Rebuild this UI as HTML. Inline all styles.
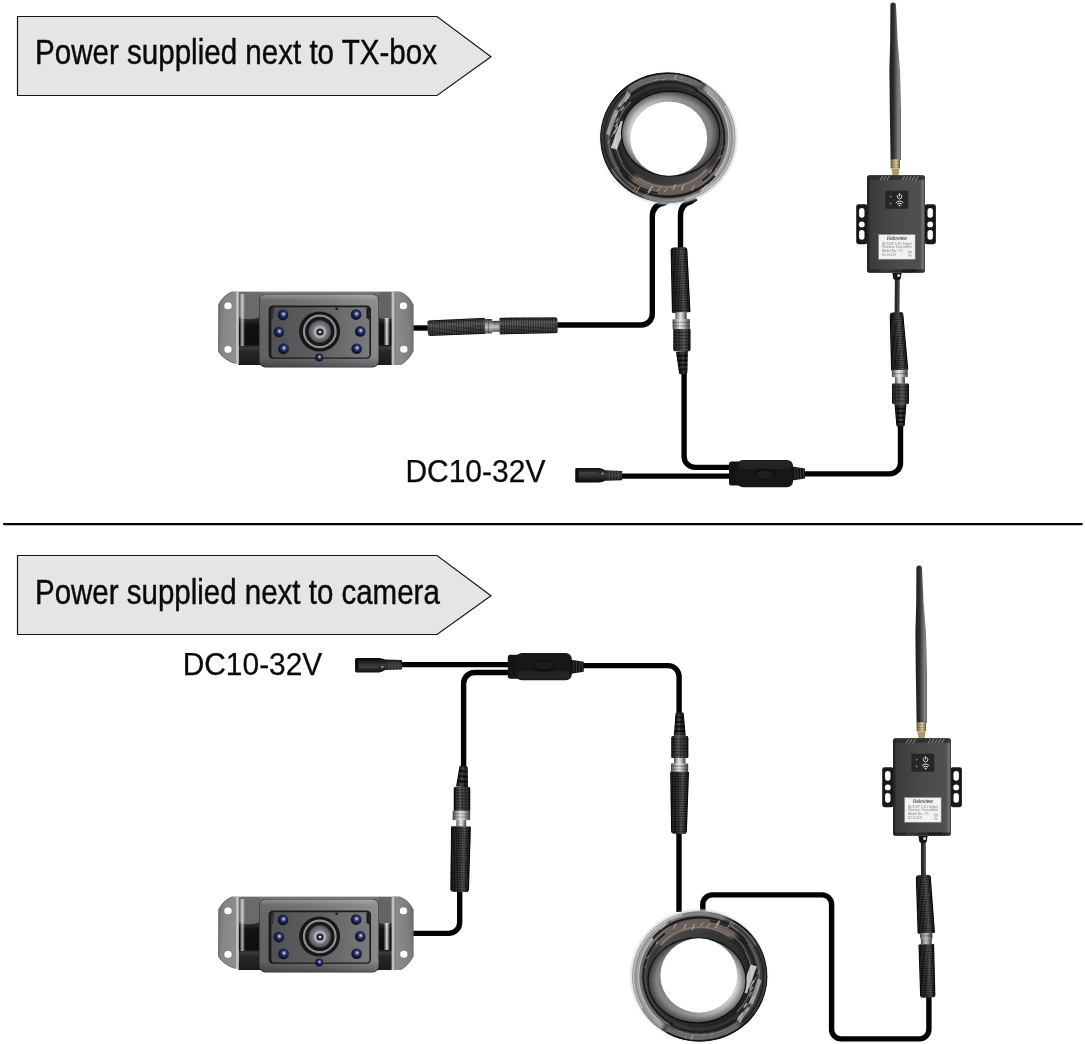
<!DOCTYPE html>
<html lang="en">
<head>
<meta charset="utf-8">
<title>Wiring diagram</title>
<style>
html,body{margin:0;padding:0;background:#fff;}
body{width:1085px;height:1044px;overflow:hidden;font-family:"Liberation Sans", Arial, Helvetica, sans-serif;}
svg{display:block;}
text{opacity:0.999;}
</style>
</head>
<body>
<svg width="1085" height="1044" viewBox="0 0 1085 1044">
<defs>
<linearGradient id="gBarV" x1="0" x2="1" y1="0" y2="0">
  <stop offset="0" stop-color="#0d0d0d"/><stop offset="0.18" stop-color="#262626"/>
  <stop offset="0.45" stop-color="#3a3a3a"/><stop offset="0.62" stop-color="#5a5a5a"/>
  <stop offset="0.74" stop-color="#333"/><stop offset="1" stop-color="#0a0a0a"/>
</linearGradient>
<linearGradient id="gBarH" x1="0" x2="0" y1="0" y2="1">
  <stop offset="0" stop-color="#1a1a1a"/><stop offset="0.2" stop-color="#3c3c3c"/>
  <stop offset="0.5" stop-color="#4a4a4a"/><stop offset="0.7" stop-color="#2c2c2c"/>
  <stop offset="1" stop-color="#0c0c0c"/>
</linearGradient>
<linearGradient id="gSilV" x1="0" x2="1" y1="0" y2="0">
  <stop offset="0" stop-color="#5a5a5a"/><stop offset="0.25" stop-color="#b8b8b8"/>
  <stop offset="0.5" stop-color="#f2f2f2"/><stop offset="0.75" stop-color="#a0a0a0"/>
  <stop offset="1" stop-color="#4a4a4a"/>
</linearGradient>
<linearGradient id="gSilH" x1="0" x2="0" y1="0" y2="1">
  <stop offset="0" stop-color="#6a6a60"/><stop offset="0.3" stop-color="#c8c4b4"/>
  <stop offset="0.5" stop-color="#f0ede0"/><stop offset="0.75" stop-color="#a09c8c"/>
  <stop offset="1" stop-color="#4a4a44"/>
</linearGradient>
<linearGradient id="gAnt" x1="0" x2="1" y1="0" y2="0">
  <stop offset="0" stop-color="#1e1e1e"/><stop offset="0.35" stop-color="#2c2c2c"/>
  <stop offset="0.7" stop-color="#6e6e6e"/><stop offset="0.86" stop-color="#8c8c8c"/>
  <stop offset="1" stop-color="#3a3a3a"/>
</linearGradient>
<linearGradient id="gBrass" x1="0" x2="1" y1="0" y2="0">
  <stop offset="0" stop-color="#6a5c3a"/><stop offset="0.4" stop-color="#c0ac7c"/>
  <stop offset="0.6" stop-color="#e6dcb8"/><stop offset="1" stop-color="#6a5c3a"/>
</linearGradient>
<filter id="blur05" x="-10%" y="-10%" width="120%" height="120%"><feGaussianBlur stdDeviation="0.5"/></filter>
<filter id="blur08" x="-10%" y="-10%" width="120%" height="120%"><feGaussianBlur stdDeviation="0.8"/></filter>
<filter id="blur15" x="-10%" y="-10%" width="120%" height="120%"><feGaussianBlur stdDeviation="1.5"/></filter>

<linearGradient id="kWallA" x1="0" x2="1" y1="0.45" y2="0.55"><stop offset="0" stop-color="#dedede"/><stop offset="0.22" stop-color="#bcbcbc"/><stop offset="0.5" stop-color="#949494"/><stop offset="1" stop-color="#807c7c"/></linearGradient>
<radialGradient id="kWallDA" cx="0.5" cy="0.5" r="0.5"><stop offset="0.84" stop-color="#000" stop-opacity="0"/><stop offset="1" stop-color="#000" stop-opacity="0.5"/></radialGradient>
<linearGradient id="kBaseA" x1="0" x2="1" y1="0.35" y2="0.65"><stop offset="0" stop-color="#242424"/><stop offset="0.5" stop-color="#363636"/><stop offset="0.8" stop-color="#4a4a4a"/><stop offset="1" stop-color="#606060"/></linearGradient>
<clipPath id="kClipA"><ellipse cx="0" cy="0" rx="67.6" ry="65.2"/></clipPath>

<linearGradient id="cFlA" x1="0" x2="1" y1="0" y2="0.25"><stop offset="0" stop-color="#6c6c6c"/><stop offset="0.35" stop-color="#868686"/><stop offset="1" stop-color="#8e8e8e"/></linearGradient>
<linearGradient id="cFrA" x1="0" x2="1" y1="0.25" y2="0"><stop offset="0" stop-color="#8c8c8c"/><stop offset="0.6" stop-color="#808080"/><stop offset="1" stop-color="#6a6a6a"/></linearGradient>
<linearGradient id="cSideA" x1="0" x2="0" y1="0" y2="1"><stop offset="0" stop-color="#7a7a7a"/><stop offset="0.12" stop-color="#5c5c5c"/><stop offset="0.3" stop-color="#666"/><stop offset="0.38" stop-color="#2a2a2a"/><stop offset="0.45" stop-color="#121212"/><stop offset="0.72" stop-color="#0e0e0e"/><stop offset="0.76" stop-color="#3a3a3a"/><stop offset="0.82" stop-color="#262626"/><stop offset="1" stop-color="#1c1c1c"/></linearGradient>
<linearGradient id="cBezA" x1="0" x2="1" y1="0" y2="0"><stop offset="0" stop-color="#626262"/><stop offset="0.5" stop-color="#707070"/><stop offset="1" stop-color="#8a8a8a"/></linearGradient>
<linearGradient id="cBezVA" x1="0" x2="0" y1="0" y2="1"><stop offset="0" stop-color="#fff" stop-opacity="0.3"/><stop offset="0.08" stop-color="#fff" stop-opacity="0.05"/><stop offset="0.85" stop-color="#000" stop-opacity="0"/><stop offset="1" stop-color="#000" stop-opacity="0.3"/></linearGradient>
<linearGradient id="cFaceA" x1="0" x2="1" y1="0" y2="0"><stop offset="0" stop-color="#515151"/><stop offset="0.45" stop-color="#5e5e5e"/><stop offset="1" stop-color="#7a7a7a"/></linearGradient>
<radialGradient id="cLensA" cx="0.5" cy="0.5" r="0.5"><stop offset="0" stop-color="#9a9aa2"/><stop offset="0.6" stop-color="#7c7e84"/><stop offset="0.88" stop-color="#5e6066"/><stop offset="1" stop-color="#34353a"/></radialGradient>
<radialGradient id="cLedA" cx="0.55" cy="0.42" r="0.6"><stop offset="0" stop-color="#e6ecff"/><stop offset="0.15" stop-color="#8c9ad0"/><stop offset="0.4" stop-color="#27326c"/><stop offset="0.72" stop-color="#131736"/><stop offset="1" stop-color="#0c0e20"/></radialGradient>
<linearGradient id="cSpecA" x1="0" x2="1" y1="0" y2="0"><stop offset="0" stop-color="#fff" stop-opacity="0"/><stop offset="0.5" stop-color="#fff" stop-opacity="0.85"/><stop offset="1" stop-color="#fff" stop-opacity="0"/></linearGradient>

<linearGradient id="tBodyA" x1="0" x2="1" y1="0" y2="0"><stop offset="0" stop-color="#1e1e1e"/><stop offset="0.07" stop-color="#3c3c3c"/><stop offset="0.5" stop-color="#4a4a4a"/><stop offset="0.92" stop-color="#505050"/><stop offset="0.965" stop-color="#787878"/><stop offset="1" stop-color="#3a3a3a"/></linearGradient>
<clipPath id="bc1"><path d="M427.83,333.55 L427.37,323.05 Q427.26,320.46 429.86,320.33 L483.65,317.76 Q484.85,317.71 484.90,318.91 L485.50,332.69 Q485.55,333.89 484.35,333.94 L430.54,336.04 Q427.94,336.14 427.83,333.55 Z"/></clipPath><clipPath id="bc2"><path d="M484.80,332.80 L484.80,319.80 Q484.80,319.00 485.60,319.00 L491.50,319.00 Q492.30,319.00 492.30,319.80 L492.30,332.80 Q492.30,333.60 491.50,333.60 L485.60,333.60 Q484.80,333.60 484.80,332.80 Z"/></clipPath><clipPath id="bc3"><path d="M492.30,331.30 L492.30,321.30 Q492.30,320.80 492.80,320.80 L499.30,320.80 Q499.80,320.80 499.80,321.30 L499.80,331.30 Q499.80,331.80 499.30,331.80 L492.80,331.80 Q492.30,331.80 492.30,331.30 Z"/></clipPath><clipPath id="bc4"><path d="M499.61,333.35 L499.39,318.85 Q499.37,317.65 500.57,317.64 L554.88,317.27 Q557.48,317.25 557.52,319.85 L557.68,330.55 Q557.72,333.15 555.12,333.21 L500.83,334.52 Q499.63,334.55 499.61,333.35 Z"/></clipPath><clipPath id="bc5"><path d="M674.00,247.57 L683.80,247.23 Q687.29,247.10 687.47,250.60 L690.48,311.07 Q690.54,312.27 689.34,312.31 L673.06,312.89 Q671.86,312.93 671.83,311.73 L670.58,251.20 Q670.51,247.70 674.00,247.57 Z"/></clipPath><clipPath id="bc6"><path d="M675.80,312.29 L686.20,312.11 Q686.70,312.10 686.71,312.60 L686.81,318.44 Q686.82,318.94 686.32,318.95 L675.92,319.13 Q675.42,319.14 675.41,318.64 L675.31,312.80 Q675.30,312.30 675.80,312.29 Z"/></clipPath><clipPath id="bc7"><path d="M673.22,319.18 L689.02,318.90 Q689.82,318.89 689.83,319.69 L689.98,328.35 Q690.00,329.15 689.20,329.16 L673.40,329.44 Q672.60,329.45 672.59,328.65 L672.44,319.99 Q672.42,319.19 673.22,319.18 Z"/></clipPath><clipPath id="bc8"><path d="M676.41,351.64 L687.39,350.96 Q687.89,350.93 687.88,351.43 L687.42,372.24 Q687.39,373.75 685.90,373.84 L680.70,374.16 Q679.21,374.25 678.99,372.76 L675.98,352.17 Q675.91,351.67 676.41,351.64 Z"/></clipPath><clipPath id="bc9"><path d="M674.40,329.10 L689.40,329.10 Q690.60,329.10 690.60,330.30 L690.60,348.70 Q690.60,351.30 688.00,351.30 L675.80,351.30 Q673.20,351.30 673.20,348.70 L673.20,330.30 Q673.20,329.10 674.40,329.10 Z"/></clipPath><linearGradient id="gJackA" x1="0" x2="0" y1="0" y2="1">
  <stop offset="0" stop-color="#101010"/><stop offset="0.3" stop-color="#2e2e2e"/>
  <stop offset="0.5" stop-color="#383838"/><stop offset="0.75" stop-color="#1e1e1e"/><stop offset="1" stop-color="#080808"/></linearGradient><clipPath id="bc10"><path d="M893.11,312.49 L899.69,312.11 Q903.19,311.91 903.50,315.40 L908.28,368.51 Q908.39,369.70 907.19,369.77 L892.21,370.63 Q891.01,370.70 890.99,369.49 L889.70,316.19 Q889.61,312.69 893.11,312.49 Z"/></clipPath><clipPath id="bc11"><path d="M892.50,370.16 L906.90,369.84 Q907.70,369.82 907.72,370.62 L907.84,376.15 Q907.85,376.95 907.05,376.97 L892.66,377.28 Q891.86,377.30 891.84,376.50 L891.72,370.97 Q891.70,370.18 892.50,370.16 Z"/></clipPath><clipPath id="bc12"><path d="M895.36,377.22 L904.35,377.03 Q904.85,377.01 904.87,377.51 L904.99,383.09 Q905.00,383.59 904.50,383.60 L895.50,383.80 Q895.00,383.81 894.99,383.31 L894.87,377.73 Q894.86,377.23 895.36,377.22 Z"/></clipPath><clipPath id="bc13"><path d="M895.00,404.30 L906.00,404.30 Q906.50,404.30 906.46,404.80 L904.73,424.90 Q904.60,426.40 903.10,426.40 L897.90,426.40 Q896.40,426.40 896.27,424.90 L894.54,404.80 Q894.50,404.30 895.00,404.30 Z"/></clipPath><clipPath id="bc14"><path d="M893.20,383.50 L907.80,383.50 Q909.00,383.50 909.00,384.70 L909.00,401.70 Q909.00,404.30 906.40,404.30 L894.60,404.30 Q892.00,404.30 892.00,401.70 L892.00,384.70 Q892.00,383.50 893.20,383.50 Z"/></clipPath>
<linearGradient id="kWallB" x1="0" x2="1" y1="0.45" y2="0.55"><stop offset="0" stop-color="#dedede"/><stop offset="0.22" stop-color="#bcbcbc"/><stop offset="0.5" stop-color="#949494"/><stop offset="1" stop-color="#807c7c"/></linearGradient>
<radialGradient id="kWallDB" cx="0.5" cy="0.5" r="0.5"><stop offset="0.84" stop-color="#000" stop-opacity="0"/><stop offset="1" stop-color="#000" stop-opacity="0.5"/></radialGradient>
<linearGradient id="kBaseB" x1="0" x2="1" y1="0.35" y2="0.65"><stop offset="0" stop-color="#242424"/><stop offset="0.5" stop-color="#363636"/><stop offset="0.8" stop-color="#4a4a4a"/><stop offset="1" stop-color="#606060"/></linearGradient>
<clipPath id="kClipB"><ellipse cx="0" cy="0" rx="67.6" ry="65.2"/></clipPath>

<linearGradient id="cFlB" x1="0" x2="1" y1="0" y2="0.25"><stop offset="0" stop-color="#6c6c6c"/><stop offset="0.35" stop-color="#868686"/><stop offset="1" stop-color="#8e8e8e"/></linearGradient>
<linearGradient id="cFrB" x1="0" x2="1" y1="0.25" y2="0"><stop offset="0" stop-color="#8c8c8c"/><stop offset="0.6" stop-color="#808080"/><stop offset="1" stop-color="#6a6a6a"/></linearGradient>
<linearGradient id="cSideB" x1="0" x2="0" y1="0" y2="1"><stop offset="0" stop-color="#7a7a7a"/><stop offset="0.12" stop-color="#5c5c5c"/><stop offset="0.3" stop-color="#666"/><stop offset="0.38" stop-color="#2a2a2a"/><stop offset="0.45" stop-color="#121212"/><stop offset="0.72" stop-color="#0e0e0e"/><stop offset="0.76" stop-color="#3a3a3a"/><stop offset="0.82" stop-color="#262626"/><stop offset="1" stop-color="#1c1c1c"/></linearGradient>
<linearGradient id="cBezB" x1="0" x2="1" y1="0" y2="0"><stop offset="0" stop-color="#626262"/><stop offset="0.5" stop-color="#707070"/><stop offset="1" stop-color="#8a8a8a"/></linearGradient>
<linearGradient id="cBezVB" x1="0" x2="0" y1="0" y2="1"><stop offset="0" stop-color="#fff" stop-opacity="0.3"/><stop offset="0.08" stop-color="#fff" stop-opacity="0.05"/><stop offset="0.85" stop-color="#000" stop-opacity="0"/><stop offset="1" stop-color="#000" stop-opacity="0.3"/></linearGradient>
<linearGradient id="cFaceB" x1="0" x2="1" y1="0" y2="0"><stop offset="0" stop-color="#515151"/><stop offset="0.45" stop-color="#5e5e5e"/><stop offset="1" stop-color="#7a7a7a"/></linearGradient>
<radialGradient id="cLensB" cx="0.5" cy="0.5" r="0.5"><stop offset="0" stop-color="#9a9aa2"/><stop offset="0.6" stop-color="#7c7e84"/><stop offset="0.88" stop-color="#5e6066"/><stop offset="1" stop-color="#34353a"/></radialGradient>
<radialGradient id="cLedB" cx="0.55" cy="0.42" r="0.6"><stop offset="0" stop-color="#e6ecff"/><stop offset="0.15" stop-color="#8c9ad0"/><stop offset="0.4" stop-color="#27326c"/><stop offset="0.72" stop-color="#131736"/><stop offset="1" stop-color="#0c0e20"/></radialGradient>
<linearGradient id="cSpecB" x1="0" x2="1" y1="0" y2="0"><stop offset="0" stop-color="#fff" stop-opacity="0"/><stop offset="0.5" stop-color="#fff" stop-opacity="0.85"/><stop offset="1" stop-color="#fff" stop-opacity="0"/></linearGradient>

<linearGradient id="tBodyB" x1="0" x2="1" y1="0" y2="0"><stop offset="0" stop-color="#1e1e1e"/><stop offset="0.07" stop-color="#3c3c3c"/><stop offset="0.5" stop-color="#4a4a4a"/><stop offset="0.92" stop-color="#505050"/><stop offset="0.965" stop-color="#787878"/><stop offset="1" stop-color="#3a3a3a"/></linearGradient>
<linearGradient id="gJackB" x1="0" x2="0" y1="0" y2="1">
  <stop offset="0" stop-color="#101010"/><stop offset="0.3" stop-color="#2e2e2e"/>
  <stop offset="0.5" stop-color="#383838"/><stop offset="0.75" stop-color="#1e1e1e"/><stop offset="1" stop-color="#080808"/></linearGradient><clipPath id="bc15"><path d="M467.48,787.22 L456.52,786.38 Q456.02,786.34 456.10,785.84 L459.26,767.17 Q459.51,765.69 461.01,765.80 L466.19,766.20 Q467.69,766.31 467.71,767.82 L467.98,786.76 Q467.98,787.26 467.48,787.22 Z"/></clipPath><clipPath id="bc16"><path d="M469.15,810.90 L454.85,810.90 Q453.65,810.90 453.65,809.70 L453.65,789.40 Q453.65,786.80 456.25,786.80 L467.75,786.80 Q470.35,786.80 470.35,789.40 L470.35,809.70 Q470.35,810.90 469.15,810.90 Z"/></clipPath><clipPath id="bc17"><path d="M453.45,810.60 L469.55,810.80 Q470.35,810.81 470.34,811.61 L470.24,819.55 Q470.23,820.35 469.43,820.34 L453.33,820.14 Q452.53,820.13 452.54,819.33 L452.64,811.39 Q452.65,810.59 453.45,810.60 Z"/></clipPath><clipPath id="bc18"><path d="M456.88,820.18 L465.88,820.30 Q466.38,820.30 466.37,820.80 L466.31,826.16 Q466.30,826.66 465.80,826.66 L456.80,826.54 Q456.30,826.54 456.31,826.04 L456.37,820.68 Q456.38,820.18 456.88,820.18 Z"/></clipPath><clipPath id="bc19"><path d="M452.20,826.21 L469.80,826.59 Q471.00,826.61 470.96,827.81 L469.10,888.70 Q469.00,892.20 465.50,892.13 L453.70,891.87 Q450.20,891.80 450.24,888.30 L450.99,827.39 Q451.00,826.19 452.20,826.21 Z"/></clipPath><clipPath id="bc20"><path d="M685.30,735.75 L674.30,735.85 Q673.80,735.85 673.84,735.35 L675.39,714.14 Q675.50,712.64 677.00,712.62 L682.20,712.58 Q683.70,712.56 683.84,714.06 L685.75,735.25 Q685.80,735.75 685.30,735.75 Z"/></clipPath><clipPath id="bc21"><path d="M687.25,758.00 L672.35,758.00 Q671.15,758.00 671.15,756.80 L671.15,738.40 Q671.15,735.80 673.75,735.80 L685.85,735.80 Q688.45,735.80 688.45,738.40 L688.45,756.80 Q688.45,758.00 687.25,758.00 Z"/></clipPath><clipPath id="bc22"><path d="M674.50,757.72 L685.10,757.88 Q685.60,757.88 685.59,758.38 L685.53,763.02 Q685.52,763.52 685.02,763.52 L674.42,763.36 Q673.92,763.36 673.93,762.86 L673.99,758.22 Q674.00,757.72 674.50,757.72 Z"/></clipPath><clipPath id="bc23"><path d="M671.87,763.33 L687.57,763.55 Q688.37,763.56 688.36,764.36 L688.26,771.22 Q688.25,772.02 687.45,772.01 L671.75,771.79 Q670.95,771.78 670.96,770.98 L671.06,764.12 Q671.07,763.32 671.87,763.33 Z"/></clipPath><clipPath id="bc24"><path d="M671.30,771.62 L687.90,771.78 Q689.10,771.79 689.06,772.99 L687.02,830.48 Q686.90,833.98 683.40,833.94 L674.60,833.86 Q671.10,833.82 671.04,830.32 L670.12,772.81 Q670.10,771.61 671.30,771.62 Z"/></clipPath><clipPath id="bc25"><path d="M919.21,875.21 L927.19,874.79 Q930.69,874.60 930.95,878.09 L935.00,931.64 Q935.09,932.83 933.89,932.90 L918.71,933.70 Q917.51,933.77 917.48,932.57 L915.82,878.90 Q915.71,875.40 919.21,875.21 Z"/></clipPath><clipPath id="bc26"><path d="M920.90,933.10 L931.70,933.10 Q932.50,933.10 932.50,933.90 L932.50,937.95 Q932.50,938.75 931.70,938.75 L920.90,938.75 Q920.10,938.75 920.10,937.95 L920.10,933.90 Q920.10,933.10 920.90,933.10 Z"/></clipPath><clipPath id="bc27"><path d="M921.30,938.75 L931.30,938.75 Q931.80,938.75 931.80,939.25 L931.80,943.90 Q931.80,944.40 931.30,944.40 L921.30,944.40 Q920.80,944.40 920.80,943.90 L920.80,939.25 Q920.80,938.75 921.30,938.75 Z"/></clipPath><clipPath id="bc28"><path d="M919.60,944.39 L933.00,944.01 Q934.20,943.98 934.23,945.18 L935.42,994.28 Q935.50,997.28 932.50,997.37 L923.10,997.63 Q920.10,997.72 920.01,994.72 L918.44,945.62 Q918.40,944.42 919.60,944.39 Z"/></clipPath></defs>
<rect width="1085" height="1044" fill="#fff"/>
<path d="M4,524.05 H1081.7" stroke="#050505" stroke-width="2.3" stroke-linecap="round" fill="none"/>
<polygon points="17.5,16.5 437,16.5 491,56.8 437,95.5 17.5,95.5" fill="#e5e5e5" stroke="#161616" stroke-width="1.2" stroke-linejoin="miter"/>
<text x="35" y="64.2" font-family='"Liberation Sans", Arial, Helvetica, sans-serif' font-size="35.5" fill="#0a0a0a" stroke="#0a0a0a" stroke-width="0.45" textLength="402" lengthAdjust="spacingAndGlyphs">Power supplied next to TX-box</text>
<polygon points="17.5,555.5 437,555.5 491,595.8 437,634.5 17.5,634.5" fill="#e5e5e5" stroke="#161616" stroke-width="1.2" stroke-linejoin="miter"/>
<text x="35" y="604.0" font-family='"Liberation Sans", Arial, Helvetica, sans-serif' font-size="35.5" fill="#0a0a0a" stroke="#0a0a0a" stroke-width="0.45" textLength="404.8" lengthAdjust="spacingAndGlyphs">Power supplied next to camera</text>
<text x="405.4" y="482.2" font-family='"Liberation Sans", Arial, Helvetica, sans-serif' font-size="30.7" fill="#0a0a0a" stroke="#0a0a0a" stroke-width="0.25" textLength="140" lengthAdjust="spacingAndGlyphs">DC10-32V</text>
<text x="182.7" y="675.3" font-family='"Liberation Sans", Arial, Helvetica, sans-serif' font-size="30.7" fill="#0a0a0a" stroke="#0a0a0a" stroke-width="0.25" textLength="139.6" lengthAdjust="spacingAndGlyphs">DC10-32V</text>
<path d="M411,328 H430" fill="none" stroke="#030303" stroke-width="5.4" stroke-linecap="butt" stroke-linejoin="round"/>
<path d="M555,325 H641.3 A11,11 0 0 0 652.3,314 V217 Q652.3,205 664,203 L670,200" fill="none" stroke="#030303" stroke-width="5.4" stroke-linecap="butt" stroke-linejoin="round"/>
<path d="M696,198 L691,201.5 Q680.5,204 680.5,216 V250" fill="none" stroke="#030303" stroke-width="5.4" stroke-linecap="butt" stroke-linejoin="round"/>
<path d="M684.1,371 V456.4 A11,11 0 0 0 695.1,467.4 H731" fill="none" stroke="#030303" stroke-width="5.4" stroke-linecap="butt" stroke-linejoin="round"/>
<path d="M620,476.1 H731" fill="none" stroke="#030303" stroke-width="5.4" stroke-linecap="butt" stroke-linejoin="round"/>
<path d="M803,473.9 H889.5 A11,11 0 0 0 900.5,462.9 V424" fill="none" stroke="#030303" stroke-width="5.4" stroke-linecap="butt" stroke-linejoin="round"/>
<path d="M897.3,276 L897,314" stroke="#262626" stroke-width="4.8" fill="none"/>
<path d="M898.1999999999999,276 L897.9,314" stroke="#6a6a6a" stroke-width="1.1" fill="none" opacity="0.7"/>
<g transform="translate(667.8,137.7) rotate(0)">
<ellipse cx="0.8" cy="0.8" rx="68.19999999999999" ry="65.8" fill="#d4d4d4" filter="url(#blur08)"/>
<g clip-path="url(#kClipA)">
<ellipse cx="0" cy="0" rx="67.6" ry="65.2" fill="url(#kBaseA)"/>
<g filter="url(#blur15)"><path d="M36.6,-50.5 A63.9,61.6 0 0 1 31.9,53.4" stroke="#a4a4a4" stroke-width="7.0" opacity="1" fill="none" stroke-linecap="butt"/><path d="M-39.3,-48.6 A63.9,61.6 0 0 1 33.9,-52.3" stroke="#707070" stroke-width="7.0" opacity="0.9" fill="none" stroke-linecap="butt"/><path d="M-52.7,29.3 A60.8,58.7 0 0 1 -37.5,-46.2" stroke="#4a4a4a" stroke-width="10" opacity="0.7" fill="none" stroke-linecap="butt"/><path d="M-5.4,59.8 A62.2,60.0 0 0 1 -53.9,30.0" stroke="#3c3c3c" stroke-width="9" opacity="0.8" fill="none" stroke-linecap="butt"/><path d="M45.4,30.7 A55.4,53.5 0 0 1 -35.6,41.0" stroke="#6b5f5a" stroke-width="10" opacity="0.95" fill="none" stroke-linecap="butt"/><path d="M30.6,55.6 A65.2,62.9 0 0 1 -24.4,58.3" stroke="#a8a8a8" stroke-width="3.4" opacity="0.9" fill="none" stroke-linecap="butt"/><path d="M-33.0,38.0 A51.4,49.6 0 1 1 39.4,31.9" stroke="#141414" stroke-width="3.0" opacity="0.7" fill="none" stroke-linecap="butt"/></g>
<g filter="url(#blur05)"><path d="M57.7,-32.1 A66.6,64.2 0 0 1 17.2,62.0" stroke="#dcdcdc" stroke-width="1.8" opacity="0.8" fill="none" stroke-linecap="butt"/><path d="M45.6,-44.0 A64.6,62.3 0 0 1 45.6,44.0" stroke="#7e7e7e" stroke-width="1.0" opacity="0.8" fill="none" stroke-linecap="butt"/><path d="M39.3,-45.2 A61.2,59.0 0 0 1 39.3,45.2" stroke="#e0e0e0" stroke-width="1.2" opacity="0.6" fill="none" stroke-linecap="butt"/><path d="M29.4,-49.1 A58.8,56.7 0 0 1 33.7,46.5" stroke="#707070" stroke-width="1.4" opacity="0.9" fill="none" stroke-linecap="butt"/><path d="M26.5,-48.1 A56.4,54.4 0 0 1 34.8,42.9" stroke="#141414" stroke-width="1.8" opacity="0.9" fill="none" stroke-linecap="butt"/><path d="M-62.9,-22.1 A66.9,64.5 0 0 1 38.4,-52.9" stroke="#202020" stroke-width="1.6" opacity="0.9" fill="none" stroke-linecap="butt"/><path d="M-37.5,-46.2 A60.8,58.7 0 0 1 24.7,-53.6" stroke="#a0a0a0" stroke-width="1.0" opacity="0.6" fill="none" stroke-linecap="butt"/><path d="M-38.7,-41.4 A57.8,55.7 0 0 1 30.6,-47.3" stroke="#1a1a1a" stroke-width="1.8" opacity="0.85" fill="none" stroke-linecap="butt"/><path d="M-33.3,-41.1 A54.1,52.2 0 0 1 25.4,-46.1" stroke="#3c3c3c" stroke-width="1.6" opacity="0.7" fill="none" stroke-linecap="butt"/><path d="M-51.0,41.3 A66.6,64.2 0 0 1 -54.5,-36.8" stroke="#808080" stroke-width="1.2" opacity="0.7" fill="none" stroke-linecap="butt"/><path d="M-55.0,30.6 A63.5,61.3 0 0 1 -42.5,-45.5" stroke="#161616" stroke-width="1.4" opacity="0.8" fill="none" stroke-linecap="butt"/><path d="M-45.6,36.9 A59.5,57.4 0 0 1 -39.8,-42.6" stroke="#767676" stroke-width="1.4" opacity="0.7" fill="none" stroke-linecap="butt"/><path d="M-39.7,38.3 A56.1,54.1 0 0 1 -39.7,-38.3" stroke="#1a1a1a" stroke-width="1.8" opacity="0.85" fill="none" stroke-linecap="butt"/><path d="M-45.4,25.3 A52.4,50.5 0 0 1 -37.0,-35.7" stroke="#808080" stroke-width="1.4" opacity="0.7" fill="none" stroke-linecap="butt"/><path d="M-5.7,62.4 A64.9,62.6 0 0 1 -56.2,31.3" stroke="#767676" stroke-width="1.6" opacity="0.7" fill="none" stroke-linecap="butt"/><path d="M-10.6,58.1 A61.2,59.0 0 0 1 -53.0,29.5" stroke="#9a9a9a" stroke-width="1.0" opacity="0.5" fill="none" stroke-linecap="butt"/><path d="M-10.2,55.5 A58.5,56.4 0 0 1 -47.9,32.3" stroke="#141414" stroke-width="1.8" opacity="0.8" fill="none" stroke-linecap="butt"/><path d="M-13.8,49.8 A53.4,51.5 0 0 1 -46.2,25.8" stroke="#808080" stroke-width="1.4" opacity="0.6" fill="none" stroke-linecap="butt"/><path d="M39.1,31.6 A51.0,49.2 0 0 1 -29.3,40.3" stroke="#93847e" stroke-width="1.8" opacity="0.7" fill="none" stroke-linecap="butt"/><path d="M46.9,37.9 A61.2,59.0 0 0 1 -30.6,51.1" stroke="#171514" stroke-width="2.4" opacity="0.9" fill="none" stroke-linecap="butt"/><path d="M33.6,-56.2 A67.3,64.9 0 0 1 -11.7,63.9" stroke="#8e8e8e" stroke-width="0.9" opacity="0.8" fill="none" stroke-linecap="butt"/><path d="M-57,10 L-47,-17 L-41,-15 L-51,12 Z" fill="#f4f4f4" opacity="0.75"/><path d="M-62,-4 L-53,-28 L-49,-27 L-58,-2 Z" fill="#d8d8d8" opacity="0.55"/><path d="M-50,-32 L-40,-46 L-37,-44 L-47,-30 Z" fill="#c8c8c8" opacity="0.5"/><path d="M-56.2,10.4l2.8,-3.6" stroke="#e8e4e2" stroke-width="1.0" opacity="0.68"/><path d="M-60.2,6.0l2.9,-4.4" stroke="#e8e4e2" stroke-width="0.7" opacity="0.52"/><path d="M-56.9,-0.4l4.0,-6.7" stroke="#e8e4e2" stroke-width="0.7" opacity="0.76"/><path d="M-54.3,-3.9l4.6,-7.7" stroke="#e8e4e2" stroke-width="1.2" opacity="0.62"/><path d="M-53.0,-10.4l2.6,-3.8" stroke="#e8e4e2" stroke-width="1.1" opacity="0.70"/><path d="M-51.9,-15.4l2.5,-4.4" stroke="#e8e4e2" stroke-width="1.2" opacity="0.56"/><path d="M-54.2,-19.7l3.4,-4.4" stroke="#e8e4e2" stroke-width="1.2" opacity="0.61"/><path d="M-51.4,-23.7l4.8,-6.4" stroke="#e8e4e2" stroke-width="0.9" opacity="0.53"/><path d="M-47.1,-26.8l3.2,-4.3" stroke="#e8e4e2" stroke-width="1.3" opacity="0.70"/><path d="M-48.9,-31.1l2.4,-3.8" stroke="#e8e4e2" stroke-width="0.7" opacity="0.77"/><path d="M-43.0,-35.9l5.2,-7.1" stroke="#e8e4e2" stroke-width="1.3" opacity="0.75"/><path d="M-42.0,-41.8l2.0,-4.8" stroke="#e8e4e2" stroke-width="1.0" opacity="0.56"/><path d="M-34.7,54.0l2.4,-3.3" stroke="#e8e4e2" stroke-width="0.8" opacity="0.58"/><path d="M-31.8,54.8l4.1,-6.2" stroke="#e8e4e2" stroke-width="0.9" opacity="0.69"/><path d="M-20.2,56.0l3.5,-4.0" stroke="#e8e4e2" stroke-width="1.2" opacity="0.61"/><path d="M-19.6,54.1l4.1,-5.5" stroke="#e8e4e2" stroke-width="1.0" opacity="0.67"/><path d="M-10.6,53.3l4.2,-4.2" stroke="#e8e4e2" stroke-width="0.8" opacity="0.71"/><path d="M-3.4,54.2l2.7,-3.7" stroke="#e8e4e2" stroke-width="1.0" opacity="0.55"/><path d="M5.1,52.6l2.8,-6.3" stroke="#e8e4e2" stroke-width="1.2" opacity="0.48"/><path d="M13.7,52.6l2.1,-5.0" stroke="#e8e4e2" stroke-width="1.1" opacity="0.56"/><path d="M23.7,52.9l2.8,-5.1" stroke="#e8e4e2" stroke-width="1.2" opacity="0.45"/><path d="M34.6,52.1l4.4,-5.2" stroke="#e8e4e2" stroke-width="1.1" opacity="0.51"/><path d="M-27.3,-57.3l3.2,-5.5" stroke="#e8e4e2" stroke-width="0.9" opacity="0.36"/><path d="M-12.6,-56.4l1.8,-3.4" stroke="#e8e4e2" stroke-width="0.8" opacity="0.32"/><path d="M-4.8,-56.9l1.9,-2.8" stroke="#e8e4e2" stroke-width="0.8" opacity="0.39"/><path d="M6.7,-58.8l2.8,-5.3" stroke="#e8e4e2" stroke-width="1.3" opacity="0.41"/><path d="M13.2,-59.0l1.8,-3.9" stroke="#e8e4e2" stroke-width="1.2" opacity="0.30"/><path d="M42.1,35.9l1.5,-3.7" stroke="#e8e4e2" stroke-width="1.2" opacity="0.41"/><path d="M47.8,33.2l1.3,-3.4" stroke="#e8e4e2" stroke-width="1.1" opacity="0.31"/><path d="M50.6,21.1l3.4,-3.6" stroke="#e8e4e2" stroke-width="1.2" opacity="0.40"/><path d="M53.3,11.0l2.4,-2.3" stroke="#e8e4e2" stroke-width="0.8" opacity="0.37"/></g>
<path d="M-33.4,55.9 A66.9,64.5 0 0 1 33.5,-55.9" stroke="#111" stroke-width="1.6" fill="none" opacity="0.9"/>
</g>
<g filter="url(#blur05)"><ellipse cx="2.8" cy="-4.1" rx="49.6" ry="43.2" fill="#101010"/><ellipse cx="2.8" cy="-4" rx="48.2" ry="41.8" fill="url(#kWallA)"/><ellipse cx="2.8" cy="-4" rx="48.2" ry="41.8" fill="url(#kWallDA)"/></g>
<ellipse cx="1" cy="0.9" rx="38.4" ry="37.2" fill="#fff" filter="url(#blur05)"/>
</g>
<g transform="translate(0,0)">
<path d="M238,291.6 L232.5,291.6 Q223.5,294.6 218.5,304.5 L218.3,351.5 Q223,359.4 234,363.4 L238,364 Z" fill="url(#cFlA)"/>
<path d="M394,291.6 L399.4,291.6 Q408.6,294.6 413.4,304.8 L413.4,351.2 Q408.8,360.4 400.8,365 L394,365 Z" fill="url(#cFrA)"/>
<path d="M232.5,291.9 Q223.5,294.9 218.8,304.5 L218.6,351.5 Q223,359.2 234,363.1" fill="none" stroke="#5e5e5e" stroke-width="0.9" opacity="0.8"/>
<path d="M399.4,291.9 Q408.6,294.9 413.1,304.8 L413.1,351.2 Q408.8,360.2 400.8,364.7" fill="none" stroke="#666" stroke-width="0.9" opacity="0.7"/>
<ellipse cx="228" cy="305.8" rx="4.1" ry="3.9" fill="#fff" stroke="#6a6a6a" stroke-width="0.7"/>
<ellipse cx="228" cy="349.4" rx="4.1" ry="3.9" fill="#fff" stroke="#6a6a6a" stroke-width="0.7"/>
<ellipse cx="403.4" cy="305.8" rx="4.1" ry="3.9" fill="#fff" stroke="#6a6a6a" stroke-width="0.7"/>
<ellipse cx="403.8" cy="349.2" rx="4.1" ry="3.9" fill="#fff" stroke="#6a6a6a" stroke-width="0.7"/>
<rect x="238.4" y="291.6" width="156" height="73.4" fill="url(#cSideA)"/>
<path d="M238.4,292 H259.5 V317 Q249,321.5 238.4,317 Z" fill="#6a6a6a" opacity="0.95"/>
<path d="M378.5,292 H394.4 V317 Q386,321 378.5,317.5 Z" fill="#646464" opacity="0.95"/>
<rect x="239.6" y="294" width="5.4" height="52" fill="url(#cSpecA)" opacity="0.8"/>
<rect x="383.6" y="318" width="6.4" height="27" fill="url(#cSpecA)"/>
<rect x="236.2" y="291.6" width="2.4" height="72.4" fill="#c4c4c4"/>
<rect x="391.6" y="291.6" width="3.6" height="73.4" fill="#c0c0c0"/>
<rect x="394.4" y="291.6" width="1.2" height="73.4" fill="#6a6a6a" opacity="0.8"/>
<rect x="259" y="294" width="120" height="73.4" rx="6.5" fill="#2a2a2a"/>
<rect x="259.6" y="294.4" width="118.8" height="72.4" rx="6.2" fill="url(#cBezA)"/>
<rect x="259.6" y="294.4" width="118.8" height="72.4" rx="6.2" fill="url(#cBezVA)"/>
<rect x="268.6" y="305.4" width="102.4" height="53.4" rx="4.2" fill="#1a1a1a"/>
<rect x="271.4" y="307.2" width="98" height="50.2" rx="3" fill="url(#cFaceA)"/>
<path d="M366.4,307.4 H369.6 V320 L366.4,318 Z" fill="#1e1e1e"/>
<path d="M271.4,319 V310 Q271.4,307.2 274,307.2 L273.2,319 Z" fill="#2a2a2a" opacity="0.75"/>
<ellipse cx="319.59999999999997" cy="331.5" rx="20.5" ry="20" fill="#161616"/>
<circle cx="319.8" cy="331.4" r="15.8" fill="none" stroke="#909090" stroke-width="2.2"/>
<circle cx="319.8" cy="331.4" r="14.3" fill="#181818"/>
<circle cx="319.8" cy="331.4" r="11.4" fill="url(#cLensA)"/>
<circle cx="319.8" cy="331.4" r="8.6" fill="none" stroke="#5a5e68" stroke-width="0.8" opacity="0.6"/>
<circle cx="320.0" cy="332.0" r="6.2" fill="#b8b6be" opacity="0.8"/>
<circle cx="320.0" cy="332.0" r="3.6" fill="#2a2030"/>
<circle cx="320.0" cy="332.0" r="1.3" fill="#e8e0f0"/>
<circle cx="283" cy="314.9" r="5.3" fill="url(#cLedA)"/>
<circle cx="278.9" cy="332.1" r="5.3" fill="url(#cLedA)"/>
<circle cx="283.5" cy="348.9" r="5.3" fill="url(#cLedA)"/>
<circle cx="356.1" cy="314.6" r="5.3" fill="url(#cLedA)"/>
<circle cx="360.2" cy="331.4" r="5.3" fill="url(#cLedA)"/>
<circle cx="356.6" cy="348.7" r="5.3" fill="url(#cLedA)"/>
<circle cx="319.2" cy="357.5" r="4" fill="url(#cLedA)"/>
<circle cx="336.6" cy="308.8" r="1.3" fill="#141414"/>
</g>
<g transform="translate(0,0)">
<path d="M890.4,5.4 Q890.4,2.4 893.2,2.4 Q896,2.4 896,5.4 L897.6,40 L900,70 L900.8,110 L900.8,160 L890.6,160 L889.8,110 L889.4,70 L890.2,40 Z" fill="url(#gAnt)"/>
<rect x="890.6" y="159.4" width="9.4" height="9" fill="url(#gBrass)"/>
<path d="M890.6,162H900 M890.6,164.6H900 M890.6,167H900" stroke="#5a4a20" stroke-width="0.7" opacity="0.6"/>
<path d="M891.4,168.4 L899.4,168.4 L898.6,176 L892.4,176 Z" fill="#b09a68"/>
<rect x="856.2" y="204.2" width="11.4" height="40" rx="2.4" fill="#181818"/>
<rect x="924.5" y="204.2" width="11.4" height="40" rx="2.4" fill="#181818"/>
<rect x="859.0999999999999" y="208" width="5.4" height="9.8" rx="2.7" fill="#fff"/>
<circle cx="861.8" cy="224.4" r="2.9" fill="#fff"/>
<rect x="859.0999999999999" y="230" width="5.4" height="9.8" rx="2.7" fill="#fff"/>
<rect x="927.5" y="208" width="5.4" height="9.8" rx="2.7" fill="#fff"/>
<circle cx="930.2" cy="224.4" r="2.9" fill="#fff"/>
<rect x="927.5" y="230" width="5.4" height="9.8" rx="2.7" fill="#fff"/>
<rect x="867" y="175.2" width="58" height="97.6" rx="3.2" fill="url(#tBodyA)"/>
<rect x="867" y="175.2" width="58" height="4.6" rx="2.4" fill="#2a2a2a" opacity="0.8"/>
<rect x="867.4" y="269.6" width="57.2" height="3.2" rx="1.6" fill="#1c1c1c" opacity="0.7"/>
<path d="M880,180.2l2.6,-4M883.4,180.2l2.6,-4M886.8,180.2l2.6,-4M902,180.2l2.6,-4M905.4,180.2l2.6,-4M908.8,180.2l2.6,-4M912.2,180.2l2.6,-4M915.6,180.2l2.6,-4" stroke="#c8c8c8" stroke-width="0.9" opacity="0.75" fill="none"/>
<path d="M902,272.6l2.4,-3.6M905,272.6l2.4,-3.6M908,272.6l2.4,-3.6M911,272.6l2.4,-3.6M914,272.6l2.4,-3.6" stroke="#0a0a0a" stroke-width="1.2" opacity="0.85" fill="none"/>
<path d="M880,272.2l2.2,-3.2M883,272.2l2.2,-3.2M886,272.2l2.2,-3.2M889,272.2l2.2,-3.2" stroke="#8a8a8a" stroke-width="0.8" opacity="0.5" fill="none"/>
<rect x="885.4" y="190.8" width="22.8" height="18" rx="1" fill="#262626"/>
<circle cx="890.7" cy="196.6" r="0.9" fill="#8a8a8a"/><circle cx="890.6" cy="203.5" r="0.9" fill="#8a8a8a"/>
<path d="M898.2,194.7 A2.3,2.3 0 1 0 901,194.7 M899.6,193.6 V196.2" fill="none" stroke="#e6e6e6" stroke-width="0.9" stroke-linecap="round"/>
<path d="M896.2,202.4 Q899.6,199.4 903,202.4 M897.5,203.9 Q899.6,202.2 901.7,203.9" fill="none" stroke="#e4e4e4" stroke-width="1" stroke-linecap="round"/><circle cx="899.6" cy="205.6" r="0.9" fill="#e4e4e4"/>
<rect x="878.7" y="234.6" width="36.4" height="24.6" fill="#f2f2f2" stroke="#9a9a9a" stroke-width="0.5"/>
<g transform="translate(878.7,234.6) scale(0.1)">
<text x="82" y="55" font-family='"Liberation Sans", Arial, Helvetica, sans-serif' font-size="48" font-weight="bold" font-style="italic" fill="#5a5a5a" textLength="200" lengthAdjust="spacingAndGlyphs">Haloview</text>
<text x="32" y="100" font-family='"Liberation Sans", Arial, Helvetica, sans-serif' font-size="33" fill="#808080" textLength="297" lengthAdjust="spacingAndGlyphs">HD720P 2.4G Digital</text>
<text x="32" y="137" font-family='"Liberation Sans", Arial, Helvetica, sans-serif' font-size="33" fill="#808080" textLength="302" lengthAdjust="spacingAndGlyphs">Wireless Transmitter</text>
<text x="32" y="179" font-family='"Liberation Sans", Arial, Helvetica, sans-serif' font-size="33" fill="#808080" textLength="208" lengthAdjust="spacingAndGlyphs">Model No.: TX</text>
<text x="32" y="216" font-family='"Liberation Sans", Arial, Helvetica, sans-serif' font-size="33" fill="#808080" textLength="140" lengthAdjust="spacingAndGlyphs">DC10-32V</text>
</g>
<path d="M908.6,251.2h2.6v2h-2.6z M908.4,255.4h3 M909.2,256.4h1.6" stroke="#777" stroke-width="0.5" fill="none"/>
<path d="M892.4,273 L901.6,273 L900.6,279 Q897,281.4 893.4,279 Z" fill="#141414"/>
<circle cx="898.6" cy="275.4" r="1.5" fill="#d0d0d0"/>
</g>
<g clip-path="url(#bc1)">
<path d="M427.94,336.14 L427.88,334.84 L485.49,332.54 L485.55,333.89 Z" fill="#202020" stroke="#202020" stroke-width="0.5"/>
<path d="M427.88,334.84 L427.83,333.53 L485.43,331.19 L485.49,332.54 Z" fill="#2b2b2b" stroke="#2b2b2b" stroke-width="0.5"/>
<path d="M427.83,333.53 L427.77,332.22 L485.38,329.85 L485.43,331.19 Z" fill="#323232" stroke="#323232" stroke-width="0.5"/>
<path d="M427.77,332.22 L427.71,330.91 L485.32,328.50 L485.38,329.85 Z" fill="#373737" stroke="#373737" stroke-width="0.5"/>
<path d="M427.71,330.91 L427.66,329.61 L485.26,327.15 L485.32,328.50 Z" fill="#3c3c3c" stroke="#3c3c3c" stroke-width="0.5"/>
<path d="M427.66,329.61 L427.60,328.30 L485.20,325.80 L485.26,327.15 Z" fill="#434343" stroke="#434343" stroke-width="0.5"/>
<path d="M427.60,328.30 L427.54,326.99 L485.14,324.45 L485.20,325.80 Z" fill="#4b4b4b" stroke="#4b4b4b" stroke-width="0.5"/>
<path d="M427.54,326.99 L427.49,325.69 L485.08,323.10 L485.14,324.45 Z" fill="#545454" stroke="#545454" stroke-width="0.5"/>
<path d="M427.49,325.69 L427.43,324.38 L485.02,321.75 L485.08,323.10 Z" fill="#5c5c5c" stroke="#5c5c5c" stroke-width="0.5"/>
<path d="M427.43,324.38 L427.37,323.07 L484.97,320.41 L485.02,321.75 Z" fill="#494949" stroke="#494949" stroke-width="0.5"/>
<path d="M427.37,323.07 L427.32,321.76 L484.91,319.06 L484.97,320.41 Z" fill="#363636" stroke="#363636" stroke-width="0.5"/>
<path d="M427.32,321.76 L427.26,320.46 L484.85,317.71 L484.91,319.06 Z" fill="#232323" stroke="#232323" stroke-width="0.5"/>
<path d="M430.3,336.0L429.7,320.3M432.7,336.0L432.1,320.2M435.1,335.9L434.5,320.1M437.5,335.8L436.9,320.0M439.9,335.7L439.3,319.9M442.3,335.6L441.7,319.8M444.7,335.5L444.1,319.7M447.1,335.4L446.5,319.5M449.5,335.3L448.9,319.4M451.9,335.2L451.3,319.3M454.3,335.1L453.7,319.2M456.7,335.0L456.1,319.1M459.1,334.9L458.5,319.0M461.5,334.8L460.9,318.9M463.9,334.7L463.3,318.7M466.3,334.6L465.7,318.6M468.7,334.5L468.1,318.5M471.1,334.5L470.5,318.4M473.5,334.4L472.9,318.3M475.9,334.3L475.3,318.2M478.3,334.2L477.7,318.1M480.8,334.1L480.0,317.9M483.2,334.0L482.4,317.8" stroke="#000" stroke-width="1.01" opacity="0.45" fill="none"/>
</g>
<g clip-path="url(#bc2)">
<path d="M484.80,333.60 L484.80,332.14 L492.30,332.14 L492.30,333.60 Z" fill="#4a4a4a" stroke="#4a4a4a" stroke-width="0.5"/>
<path d="M484.80,332.14 L484.80,330.68 L492.30,330.68 L492.30,332.14 Z" fill="#686868" stroke="#686868" stroke-width="0.5"/>
<path d="M484.80,330.68 L484.80,329.22 L492.30,329.22 L492.30,330.68 Z" fill="#858585" stroke="#858585" stroke-width="0.5"/>
<path d="M484.80,329.22 L484.80,327.76 L492.30,327.76 L492.30,329.22 Z" fill="#a0a0a0" stroke="#a0a0a0" stroke-width="0.5"/>
<path d="M484.80,327.76 L484.80,326.30 L492.30,326.30 L492.30,327.76 Z" fill="#bababa" stroke="#bababa" stroke-width="0.5"/>
<path d="M484.80,326.30 L484.80,324.84 L492.30,324.84 L492.30,326.30 Z" fill="#afafaf" stroke="#afafaf" stroke-width="0.5"/>
<path d="M484.80,324.84 L484.80,323.38 L492.30,323.38 L492.30,324.84 Z" fill="#9c9c9c" stroke="#9c9c9c" stroke-width="0.5"/>
<path d="M484.80,323.38 L484.80,321.92 L492.30,321.92 L492.30,323.38 Z" fill="#7e7e7e" stroke="#7e7e7e" stroke-width="0.5"/>
<path d="M484.80,321.92 L484.80,320.46 L492.30,320.46 L492.30,321.92 Z" fill="#606060" stroke="#606060" stroke-width="0.5"/>
<path d="M484.80,320.46 L484.80,319.00 L492.30,319.00 L492.30,320.46 Z" fill="#424242" stroke="#424242" stroke-width="0.5"/>
<path d="M488.6,333.6L488.6,319.0" stroke="#000" stroke-width="1.09" opacity="0.28" fill="none"/>
</g>
<g clip-path="url(#bc3)">
<path d="M492.30,331.80 L492.30,330.70 L499.80,330.70 L499.80,331.80 Z" fill="#4a4a4a" stroke="#4a4a4a" stroke-width="0.5"/>
<path d="M492.30,330.70 L492.30,329.60 L499.80,329.60 L499.80,330.70 Z" fill="#686868" stroke="#686868" stroke-width="0.5"/>
<path d="M492.30,329.60 L492.30,328.50 L499.80,328.50 L499.80,329.60 Z" fill="#858585" stroke="#858585" stroke-width="0.5"/>
<path d="M492.30,328.50 L492.30,327.40 L499.80,327.40 L499.80,328.50 Z" fill="#a0a0a0" stroke="#a0a0a0" stroke-width="0.5"/>
<path d="M492.30,327.40 L492.30,326.30 L499.80,326.30 L499.80,327.40 Z" fill="#bababa" stroke="#bababa" stroke-width="0.5"/>
<path d="M492.30,326.30 L492.30,325.20 L499.80,325.20 L499.80,326.30 Z" fill="#afafaf" stroke="#afafaf" stroke-width="0.5"/>
<path d="M492.30,325.20 L492.30,324.10 L499.80,324.10 L499.80,325.20 Z" fill="#9c9c9c" stroke="#9c9c9c" stroke-width="0.5"/>
<path d="M492.30,324.10 L492.30,323.00 L499.80,323.00 L499.80,324.10 Z" fill="#7e7e7e" stroke="#7e7e7e" stroke-width="0.5"/>
<path d="M492.30,323.00 L492.30,321.90 L499.80,321.90 L499.80,323.00 Z" fill="#606060" stroke="#606060" stroke-width="0.5"/>
<path d="M492.30,321.90 L492.30,320.80 L499.80,320.80 L499.80,321.90 Z" fill="#424242" stroke="#424242" stroke-width="0.5"/>
</g>
<g clip-path="url(#bc4)">
<path d="M499.63,334.55 L499.61,333.14 L557.70,331.82 L557.72,333.15 Z" fill="#202020" stroke="#202020" stroke-width="0.5"/>
<path d="M499.61,333.14 L499.59,331.73 L557.68,330.50 L557.70,331.82 Z" fill="#2b2b2b" stroke="#2b2b2b" stroke-width="0.5"/>
<path d="M499.59,331.73 L499.57,330.32 L557.66,329.17 L557.68,330.50 Z" fill="#323232" stroke="#323232" stroke-width="0.5"/>
<path d="M499.57,330.32 L499.54,328.92 L557.64,327.85 L557.66,329.17 Z" fill="#373737" stroke="#373737" stroke-width="0.5"/>
<path d="M499.54,328.92 L499.52,327.51 L557.62,326.52 L557.64,327.85 Z" fill="#3c3c3c" stroke="#3c3c3c" stroke-width="0.5"/>
<path d="M499.52,327.51 L499.50,326.10 L557.60,325.20 L557.62,326.52 Z" fill="#434343" stroke="#434343" stroke-width="0.5"/>
<path d="M499.50,326.10 L499.48,324.69 L557.58,323.88 L557.60,325.20 Z" fill="#4b4b4b" stroke="#4b4b4b" stroke-width="0.5"/>
<path d="M499.48,324.69 L499.46,323.28 L557.56,322.55 L557.58,323.88 Z" fill="#545454" stroke="#545454" stroke-width="0.5"/>
<path d="M499.46,323.28 L499.43,321.88 L557.54,321.23 L557.56,322.55 Z" fill="#5c5c5c" stroke="#5c5c5c" stroke-width="0.5"/>
<path d="M499.43,321.88 L499.41,320.47 L557.52,319.90 L557.54,321.23 Z" fill="#494949" stroke="#494949" stroke-width="0.5"/>
<path d="M499.41,320.47 L499.39,319.06 L557.50,318.58 L557.52,319.90 Z" fill="#363636" stroke="#363636" stroke-width="0.5"/>
<path d="M499.39,319.06 L499.37,317.65 L557.48,317.25 L557.50,318.58 Z" fill="#232323" stroke="#232323" stroke-width="0.5"/>
<path d="M502.1,334.5L501.8,317.6M504.5,334.4L504.2,317.6M506.9,334.4L506.6,317.6M509.3,334.3L509.1,317.6M511.7,334.3L511.5,317.6M514.2,334.2L513.9,317.6M516.6,334.1L516.3,317.5M519.0,334.1L518.7,317.5M521.4,334.0L521.2,317.5M523.8,334.0L523.6,317.5M526.3,333.9L526.0,317.5M528.7,333.8L528.4,317.5M531.1,333.8L530.8,317.4M533.5,333.7L533.3,317.4M535.9,333.7L535.7,317.4M538.4,333.6L538.1,317.4M540.8,333.6L540.5,317.4M543.2,333.5L542.9,317.4M545.6,333.4L545.4,317.3M548.0,333.4L547.8,317.3M550.5,333.3L550.2,317.3M552.9,333.3L552.6,317.3M555.3,333.2L555.1,317.3" stroke="#000" stroke-width="1.01" opacity="0.45" fill="none"/>
</g>
<g clip-path="url(#bc5)">
<path d="M670.51,247.70 L671.90,247.65 L673.41,312.87 L671.86,312.93 Z" fill="#0f0f0f" stroke="#0f0f0f" stroke-width="0.5"/>
<path d="M671.90,247.65 L673.30,247.60 L674.97,312.82 L673.41,312.87 Z" fill="#181818" stroke="#181818" stroke-width="0.5"/>
<path d="M673.30,247.60 L674.70,247.55 L676.53,312.76 L674.97,312.82 Z" fill="#1c1c1c" stroke="#1c1c1c" stroke-width="0.5"/>
<path d="M674.70,247.55 L676.10,247.50 L678.09,312.71 L676.53,312.76 Z" fill="#212121" stroke="#212121" stroke-width="0.5"/>
<path d="M676.10,247.50 L677.50,247.45 L679.64,312.65 L678.09,312.71 Z" fill="#252525" stroke="#252525" stroke-width="0.5"/>
<path d="M677.50,247.45 L678.90,247.40 L681.20,312.60 L679.64,312.65 Z" fill="#2e2e2e" stroke="#2e2e2e" stroke-width="0.5"/>
<path d="M678.90,247.40 L680.30,247.35 L682.76,312.55 L681.20,312.60 Z" fill="#393939" stroke="#393939" stroke-width="0.5"/>
<path d="M680.30,247.35 L681.70,247.30 L684.31,312.49 L682.76,312.55 Z" fill="#4a4a4a" stroke="#4a4a4a" stroke-width="0.5"/>
<path d="M681.70,247.30 L683.10,247.25 L685.87,312.44 L684.31,312.49 Z" fill="#4e4e4e" stroke="#4e4e4e" stroke-width="0.5"/>
<path d="M683.10,247.25 L684.50,247.20 L687.43,312.38 L685.87,312.44 Z" fill="#333333" stroke="#333333" stroke-width="0.5"/>
<path d="M684.50,247.20 L685.90,247.15 L688.99,312.33 L687.43,312.38 Z" fill="#202020" stroke="#202020" stroke-width="0.5"/>
<path d="M685.90,247.15 L687.29,247.10 L690.54,312.27 L688.99,312.33 Z" fill="#101010" stroke="#101010" stroke-width="0.5"/>
<path d="M670.6,250.1L687.4,249.5M670.6,252.5L687.5,251.9M670.7,254.9L687.7,254.3M670.7,257.4L687.8,256.8M670.8,259.8L687.9,259.2M670.8,262.2L688.0,261.6M670.9,264.6L688.1,264.0M670.9,267.0L688.3,266.4M671.0,269.4L688.4,268.8M671.0,271.9L688.5,271.2M671.1,274.3L688.6,273.7M671.1,276.7L688.7,276.1M671.2,279.1L688.9,278.5M671.2,281.5L689.0,280.9M671.3,283.9L689.1,283.3M671.3,286.4L689.2,285.7M671.4,288.8L689.3,288.1M671.4,291.2L689.5,290.5M671.5,293.6L689.6,293.0M671.5,296.0L689.7,295.4M671.6,298.4L689.8,297.8M671.6,300.8L689.9,300.2M671.7,303.3L690.1,302.6M671.7,305.7L690.2,305.0M671.8,308.1L690.3,307.4M671.8,310.5L690.4,309.9" stroke="#000" stroke-width="1.01" opacity="0.45" fill="none"/>
</g>
<g clip-path="url(#bc6)">
<path d="M675.30,312.30 L676.44,312.28 L676.56,319.12 L675.42,319.14 Z" fill="#535353" stroke="#535353" stroke-width="0.5"/>
<path d="M676.44,312.28 L677.58,312.26 L677.70,319.10 L676.56,319.12 Z" fill="#797979" stroke="#797979" stroke-width="0.5"/>
<path d="M677.58,312.26 L678.72,312.24 L678.84,319.08 L677.70,319.10 Z" fill="#9d9d9d" stroke="#9d9d9d" stroke-width="0.5"/>
<path d="M678.72,312.24 L679.86,312.22 L679.98,319.06 L678.84,319.08 Z" fill="#c0c0c0" stroke="#c0c0c0" stroke-width="0.5"/>
<path d="M679.86,312.22 L681.00,312.20 L681.12,319.04 L679.98,319.06 Z" fill="#e2e2e2" stroke="#e2e2e2" stroke-width="0.5"/>
<path d="M681.00,312.20 L682.14,312.18 L682.26,319.02 L681.12,319.04 Z" fill="#d5d5d5" stroke="#d5d5d5" stroke-width="0.5"/>
<path d="M682.14,312.18 L683.28,312.16 L683.40,319.00 L682.26,319.02 Z" fill="#bbbbbb" stroke="#bbbbbb" stroke-width="0.5"/>
<path d="M683.28,312.16 L684.42,312.14 L684.54,318.98 L683.40,319.00 Z" fill="#949494" stroke="#949494" stroke-width="0.5"/>
<path d="M684.42,312.14 L685.56,312.12 L685.68,318.96 L684.54,318.98 Z" fill="#6e6e6e" stroke="#6e6e6e" stroke-width="0.5"/>
<path d="M685.56,312.12 L686.70,312.10 L686.82,318.94 L685.68,318.96 Z" fill="#4c4c4c" stroke="#4c4c4c" stroke-width="0.5"/>
</g>
<g clip-path="url(#bc7)">
<path d="M672.42,319.19 L674.16,319.16 L674.34,329.42 L672.60,329.45 Z" fill="#535353" stroke="#535353" stroke-width="0.5"/>
<path d="M674.16,319.16 L675.90,319.13 L676.08,329.39 L674.34,329.42 Z" fill="#797979" stroke="#797979" stroke-width="0.5"/>
<path d="M675.90,319.13 L677.64,319.10 L677.82,329.36 L676.08,329.39 Z" fill="#9d9d9d" stroke="#9d9d9d" stroke-width="0.5"/>
<path d="M677.64,319.10 L679.38,319.07 L679.56,329.33 L677.82,329.36 Z" fill="#c0c0c0" stroke="#c0c0c0" stroke-width="0.5"/>
<path d="M679.38,319.07 L681.12,319.04 L681.30,329.30 L679.56,329.33 Z" fill="#e2e2e2" stroke="#e2e2e2" stroke-width="0.5"/>
<path d="M681.12,319.04 L682.86,319.01 L683.04,329.27 L681.30,329.30 Z" fill="#d5d5d5" stroke="#d5d5d5" stroke-width="0.5"/>
<path d="M682.86,319.01 L684.60,318.98 L684.78,329.24 L683.04,329.27 Z" fill="#bbbbbb" stroke="#bbbbbb" stroke-width="0.5"/>
<path d="M684.60,318.98 L686.34,318.95 L686.52,329.21 L684.78,329.24 Z" fill="#949494" stroke="#949494" stroke-width="0.5"/>
<path d="M686.34,318.95 L688.08,318.92 L688.26,329.18 L686.52,329.21 Z" fill="#6e6e6e" stroke="#6e6e6e" stroke-width="0.5"/>
<path d="M688.08,318.92 L689.82,318.89 L690.00,329.15 L688.26,329.18 Z" fill="#4c4c4c" stroke="#4c4c4c" stroke-width="0.5"/>
<path d="M672.5,322.6L689.9,322.3M672.5,326.0L689.9,325.7" stroke="#000" stroke-width="1.09" opacity="0.28" fill="none"/>
</g>
<g clip-path="url(#bc8)">
<path d="M675.91,351.67 L677.41,351.58 L680.23,374.19 L679.21,374.25 Z" fill="#0c0c0c" stroke="#0c0c0c" stroke-width="0.5"/>
<path d="M677.41,351.58 L678.91,351.48 L681.25,374.13 L680.23,374.19 Z" fill="#131313" stroke="#131313" stroke-width="0.5"/>
<path d="M678.91,351.48 L680.40,351.39 L682.28,374.06 L681.25,374.13 Z" fill="#1b1b1b" stroke="#1b1b1b" stroke-width="0.5"/>
<path d="M680.40,351.39 L681.90,351.30 L683.30,374.00 L682.28,374.06 Z" fill="#2a2a2a" stroke="#2a2a2a" stroke-width="0.5"/>
<path d="M681.90,351.30 L683.40,351.21 L684.32,373.94 L683.30,374.00 Z" fill="#383838" stroke="#383838" stroke-width="0.5"/>
<path d="M683.40,351.21 L684.89,351.12 L685.35,373.87 L684.32,373.94 Z" fill="#303030" stroke="#303030" stroke-width="0.5"/>
<path d="M684.89,351.12 L686.39,351.02 L686.37,373.81 L685.35,373.87 Z" fill="#202020" stroke="#202020" stroke-width="0.5"/>
<path d="M686.39,351.02 L687.89,350.93 L687.39,373.75 L686.37,373.81 Z" fill="#0e0e0e" stroke="#0e0e0e" stroke-width="0.5"/>
<path d="M676.6,356.2L687.8,355.5M677.2,360.7L687.7,360.1M677.9,365.2L687.6,364.6M678.5,369.7L687.5,369.2" stroke="#000" stroke-width="1.76" opacity="0.75" fill="none"/>
</g>
<g clip-path="url(#bc9)">
<path d="M673.20,329.10 L674.65,329.10 L674.65,351.30 L673.20,351.30 Z" fill="#141414" stroke="#141414" stroke-width="0.5"/>
<path d="M674.65,329.10 L676.10,329.10 L676.10,351.30 L674.65,351.30 Z" fill="#202020" stroke="#202020" stroke-width="0.5"/>
<path d="M676.10,329.10 L677.55,329.10 L677.55,351.30 L676.10,351.30 Z" fill="#282828" stroke="#282828" stroke-width="0.5"/>
<path d="M677.55,329.10 L679.00,329.10 L679.00,351.30 L677.55,351.30 Z" fill="#2e2e2e" stroke="#2e2e2e" stroke-width="0.5"/>
<path d="M679.00,329.10 L680.45,329.10 L680.45,351.30 L679.00,351.30 Z" fill="#343434" stroke="#343434" stroke-width="0.5"/>
<path d="M680.45,329.10 L681.90,329.10 L681.90,351.30 L680.45,351.30 Z" fill="#3b3b3b" stroke="#3b3b3b" stroke-width="0.5"/>
<path d="M681.90,329.10 L683.35,329.10 L683.35,351.30 L681.90,351.30 Z" fill="#4a4a4a" stroke="#4a4a4a" stroke-width="0.5"/>
<path d="M683.35,329.10 L684.80,329.10 L684.80,351.30 L683.35,351.30 Z" fill="#575757" stroke="#575757" stroke-width="0.5"/>
<path d="M684.80,329.10 L686.25,329.10 L686.25,351.30 L684.80,351.30 Z" fill="#424242" stroke="#424242" stroke-width="0.5"/>
<path d="M686.25,329.10 L687.70,329.10 L687.70,351.30 L686.25,351.30 Z" fill="#313131" stroke="#313131" stroke-width="0.5"/>
<path d="M687.70,329.10 L689.15,329.10 L689.15,351.30 L687.70,351.30 Z" fill="#222222" stroke="#222222" stroke-width="0.5"/>
<path d="M689.15,329.10 L690.60,329.10 L690.60,351.30 L689.15,351.30 Z" fill="#131313" stroke="#131313" stroke-width="0.5"/>
<path d="M673.2,332.3L690.6,332.3M673.2,335.4L690.6,335.4M673.2,338.6L690.6,338.6M673.2,341.8L690.6,341.8M673.2,345.0L690.6,345.0M673.2,348.1L690.6,348.1" stroke="#000" stroke-width="1.26" opacity="0.35" fill="none"/>
</g>
<g>
<path d="M576.7,467.90000000000003 L599.2,467.90000000000003 Q602.2,468.1 605.2,470.3 L622.2,470.90000000000003 L622.2,480.3 L605.2,480.70000000000005 Q602.2,482.3 599.2,482.40000000000003 L576.7,482.40000000000003 Q575.2,482.40000000000003 575.2,480.90000000000003 L575.2,469.3 Q575.2,467.90000000000003 576.7,467.90000000000003 Z" fill="url(#gJackA)"/>
<path d="M609.2,470.90000000000003V479.70000000000005M612.2,470.90000000000003V479.70000000000005M615.2,470.90000000000003V479.70000000000005M618.2,470.90000000000003V479.70000000000005" stroke="#777" stroke-width="1" opacity="0.45" fill="none"/>
<ellipse cx="577.2" cy="475.1" rx="1.5" ry="5.4" fill="#050505" opacity="0.8"/>
<path d="M580.2,472.90000000000003H597.2" stroke="#7a7a7a" stroke-width="1.4" opacity="0.3" stroke-linecap="round"/>
<circle cx="602.6" cy="473.5" r="1.1" fill="#d0d0d0" opacity="0.7"/>
</g>
<g>
<rect x="729" y="461.6" width="12" height="24" rx="2.5" fill="#141414"/>
<rect x="737" y="460.0" width="56" height="27.2" rx="6" fill="#171717"/>
<rect x="739" y="461.0" width="52" height="8" rx="4" fill="#343434" opacity="0.45"/>
<ellipse cx="765" cy="474.1" rx="11" ry="5.6" fill="#0e0e0e" opacity="0.8"/>
<ellipse cx="765" cy="474.8" rx="9" ry="4" fill="#202020" opacity="0.8"/>
<path d="M792,466.6 L805,468.6 L805,478.6 L792,480.6 Z" fill="#121212"/>
<path d="M795.0,468.0V479.20000000000005M797.8,468.0V479.20000000000005M800.6,468.0V479.20000000000005M803.4,468.0V479.20000000000005" stroke="#666" stroke-width="1" opacity="0.5" fill="none"/>
</g>
<g clip-path="url(#bc10)">
<path d="M889.61,312.69 L890.74,312.62 L892.46,370.61 L891.01,370.70 Z" fill="#0f0f0f" stroke="#0f0f0f" stroke-width="0.5"/>
<path d="M890.74,312.62 L891.87,312.56 L893.91,370.53 L892.46,370.61 Z" fill="#181818" stroke="#181818" stroke-width="0.5"/>
<path d="M891.87,312.56 L893.01,312.49 L895.36,370.45 L893.91,370.53 Z" fill="#1c1c1c" stroke="#1c1c1c" stroke-width="0.5"/>
<path d="M893.01,312.49 L894.14,312.43 L896.80,370.37 L895.36,370.45 Z" fill="#212121" stroke="#212121" stroke-width="0.5"/>
<path d="M894.14,312.43 L895.27,312.36 L898.25,370.28 L896.80,370.37 Z" fill="#252525" stroke="#252525" stroke-width="0.5"/>
<path d="M895.27,312.36 L896.40,312.30 L899.70,370.20 L898.25,370.28 Z" fill="#2e2e2e" stroke="#2e2e2e" stroke-width="0.5"/>
<path d="M896.40,312.30 L897.53,312.24 L901.15,370.12 L899.70,370.20 Z" fill="#393939" stroke="#393939" stroke-width="0.5"/>
<path d="M897.53,312.24 L898.66,312.17 L902.60,370.03 L901.15,370.12 Z" fill="#4a4a4a" stroke="#4a4a4a" stroke-width="0.5"/>
<path d="M898.66,312.17 L899.79,312.11 L904.04,369.95 L902.60,370.03 Z" fill="#4e4e4e" stroke="#4e4e4e" stroke-width="0.5"/>
<path d="M899.79,312.11 L900.93,312.04 L905.49,369.87 L904.04,369.95 Z" fill="#333333" stroke="#333333" stroke-width="0.5"/>
<path d="M900.93,312.04 L902.06,311.98 L906.94,369.79 L905.49,369.87 Z" fill="#202020" stroke="#202020" stroke-width="0.5"/>
<path d="M902.06,311.98 L903.19,311.91 L908.39,369.70 L906.94,369.79 Z" fill="#101010" stroke="#101010" stroke-width="0.5"/>
<path d="M889.7,315.1L903.4,314.3M889.7,317.5L903.6,316.7M889.8,319.9L903.8,319.1M889.8,322.4L904.1,321.5M889.9,324.8L904.3,324.0M890.0,327.2L904.5,326.4M890.0,329.6L904.7,328.8M890.1,332.0L904.9,331.2M890.1,334.4L905.1,333.6M890.2,336.9L905.4,336.0M890.3,339.3L905.6,338.4M890.3,341.7L905.8,340.8M890.4,344.1L906.0,343.2M890.4,346.5L906.2,345.6M890.5,348.9L906.4,348.0M890.5,351.4L906.7,350.4M890.6,353.8L906.9,352.8M890.7,356.2L907.1,355.3M890.7,358.6L907.3,357.7M890.8,361.0L907.5,360.1M890.8,363.4L907.7,362.5M890.9,365.9L908.0,364.9M891.0,368.3L908.2,367.3" stroke="#000" stroke-width="1.01" opacity="0.45" fill="none"/>
</g>
<g clip-path="url(#bc11)">
<path d="M891.70,370.18 L893.30,370.14 L893.46,377.26 L891.86,377.30 Z" fill="#535353" stroke="#535353" stroke-width="0.5"/>
<path d="M893.30,370.14 L894.90,370.11 L895.06,377.23 L893.46,377.26 Z" fill="#797979" stroke="#797979" stroke-width="0.5"/>
<path d="M894.90,370.11 L896.50,370.07 L896.66,377.19 L895.06,377.23 Z" fill="#9d9d9d" stroke="#9d9d9d" stroke-width="0.5"/>
<path d="M896.50,370.07 L898.10,370.04 L898.26,377.16 L896.66,377.19 Z" fill="#c0c0c0" stroke="#c0c0c0" stroke-width="0.5"/>
<path d="M898.10,370.04 L899.70,370.00 L899.86,377.12 L898.26,377.16 Z" fill="#e2e2e2" stroke="#e2e2e2" stroke-width="0.5"/>
<path d="M899.70,370.00 L901.30,369.96 L901.46,377.09 L899.86,377.12 Z" fill="#d5d5d5" stroke="#d5d5d5" stroke-width="0.5"/>
<path d="M901.30,369.96 L902.90,369.93 L903.06,377.05 L901.46,377.09 Z" fill="#bbbbbb" stroke="#bbbbbb" stroke-width="0.5"/>
<path d="M902.90,369.93 L904.50,369.89 L904.65,377.02 L903.06,377.05 Z" fill="#949494" stroke="#949494" stroke-width="0.5"/>
<path d="M904.50,369.89 L906.10,369.86 L906.25,376.98 L904.65,377.02 Z" fill="#6e6e6e" stroke="#6e6e6e" stroke-width="0.5"/>
<path d="M906.10,369.86 L907.70,369.82 L907.85,376.95 L906.25,376.98 Z" fill="#4c4c4c" stroke="#4c4c4c" stroke-width="0.5"/>
<path d="M891.8,373.7L907.8,373.4" stroke="#000" stroke-width="1.09" opacity="0.28" fill="none"/>
</g>
<g clip-path="url(#bc12)">
<path d="M894.86,377.23 L895.86,377.21 L896.00,383.79 L895.00,383.81 Z" fill="#535353" stroke="#535353" stroke-width="0.5"/>
<path d="M895.86,377.21 L896.86,377.19 L897.00,383.77 L896.00,383.79 Z" fill="#797979" stroke="#797979" stroke-width="0.5"/>
<path d="M896.86,377.19 L897.86,377.17 L898.00,383.74 L897.00,383.77 Z" fill="#9d9d9d" stroke="#9d9d9d" stroke-width="0.5"/>
<path d="M897.86,377.17 L898.86,377.15 L899.00,383.72 L898.00,383.74 Z" fill="#c0c0c0" stroke="#c0c0c0" stroke-width="0.5"/>
<path d="M898.86,377.15 L899.86,377.12 L900.00,383.70 L899.00,383.72 Z" fill="#e2e2e2" stroke="#e2e2e2" stroke-width="0.5"/>
<path d="M899.86,377.12 L900.86,377.10 L901.00,383.68 L900.00,383.70 Z" fill="#d5d5d5" stroke="#d5d5d5" stroke-width="0.5"/>
<path d="M900.86,377.10 L901.86,377.08 L902.00,383.66 L901.00,383.68 Z" fill="#bbbbbb" stroke="#bbbbbb" stroke-width="0.5"/>
<path d="M901.86,377.08 L902.86,377.06 L903.00,383.63 L902.00,383.66 Z" fill="#949494" stroke="#949494" stroke-width="0.5"/>
<path d="M902.86,377.06 L903.86,377.04 L904.00,383.61 L903.00,383.63 Z" fill="#6e6e6e" stroke="#6e6e6e" stroke-width="0.5"/>
<path d="M903.86,377.04 L904.85,377.01 L905.00,383.59 L904.00,383.61 Z" fill="#4c4c4c" stroke="#4c4c4c" stroke-width="0.5"/>
</g>
<g clip-path="url(#bc13)">
<path d="M894.50,404.30 L896.00,404.30 L897.42,426.40 L896.40,426.40 Z" fill="#0c0c0c" stroke="#0c0c0c" stroke-width="0.5"/>
<path d="M896.00,404.30 L897.50,404.30 L898.45,426.40 L897.42,426.40 Z" fill="#131313" stroke="#131313" stroke-width="0.5"/>
<path d="M897.50,404.30 L899.00,404.30 L899.48,426.40 L898.45,426.40 Z" fill="#1b1b1b" stroke="#1b1b1b" stroke-width="0.5"/>
<path d="M899.00,404.30 L900.50,404.30 L900.50,426.40 L899.48,426.40 Z" fill="#2a2a2a" stroke="#2a2a2a" stroke-width="0.5"/>
<path d="M900.50,404.30 L902.00,404.30 L901.52,426.40 L900.50,426.40 Z" fill="#383838" stroke="#383838" stroke-width="0.5"/>
<path d="M902.00,404.30 L903.50,404.30 L902.55,426.40 L901.52,426.40 Z" fill="#303030" stroke="#303030" stroke-width="0.5"/>
<path d="M903.50,404.30 L905.00,404.30 L903.58,426.40 L902.55,426.40 Z" fill="#202020" stroke="#202020" stroke-width="0.5"/>
<path d="M905.00,404.30 L906.50,404.30 L904.60,426.40 L903.58,426.40 Z" fill="#0e0e0e" stroke="#0e0e0e" stroke-width="0.5"/>
<path d="M894.9,408.7L906.1,408.7M895.3,413.1L905.7,413.1M895.6,417.6L905.4,417.6M896.0,422.0L905.0,422.0" stroke="#000" stroke-width="1.76" opacity="0.75" fill="none"/>
</g>
<g clip-path="url(#bc14)">
<path d="M892.00,383.50 L893.42,383.50 L893.42,404.30 L892.00,404.30 Z" fill="#141414" stroke="#141414" stroke-width="0.5"/>
<path d="M893.42,383.50 L894.83,383.50 L894.83,404.30 L893.42,404.30 Z" fill="#202020" stroke="#202020" stroke-width="0.5"/>
<path d="M894.83,383.50 L896.25,383.50 L896.25,404.30 L894.83,404.30 Z" fill="#282828" stroke="#282828" stroke-width="0.5"/>
<path d="M896.25,383.50 L897.67,383.50 L897.67,404.30 L896.25,404.30 Z" fill="#2e2e2e" stroke="#2e2e2e" stroke-width="0.5"/>
<path d="M897.67,383.50 L899.08,383.50 L899.08,404.30 L897.67,404.30 Z" fill="#343434" stroke="#343434" stroke-width="0.5"/>
<path d="M899.08,383.50 L900.50,383.50 L900.50,404.30 L899.08,404.30 Z" fill="#3b3b3b" stroke="#3b3b3b" stroke-width="0.5"/>
<path d="M900.50,383.50 L901.92,383.50 L901.92,404.30 L900.50,404.30 Z" fill="#4a4a4a" stroke="#4a4a4a" stroke-width="0.5"/>
<path d="M901.92,383.50 L903.33,383.50 L903.33,404.30 L901.92,404.30 Z" fill="#575757" stroke="#575757" stroke-width="0.5"/>
<path d="M903.33,383.50 L904.75,383.50 L904.75,404.30 L903.33,404.30 Z" fill="#424242" stroke="#424242" stroke-width="0.5"/>
<path d="M904.75,383.50 L906.17,383.50 L906.17,404.30 L904.75,404.30 Z" fill="#313131" stroke="#313131" stroke-width="0.5"/>
<path d="M906.17,383.50 L907.58,383.50 L907.58,404.30 L906.17,404.30 Z" fill="#222222" stroke="#222222" stroke-width="0.5"/>
<path d="M907.58,383.50 L909.00,383.50 L909.00,404.30 L907.58,404.30 Z" fill="#131313" stroke="#131313" stroke-width="0.5"/>
<path d="M892.0,387.0L909.0,387.0M892.0,390.4L909.0,390.4M892.0,393.9L909.0,393.9M892.0,397.4L909.0,397.4M892.0,400.8L909.0,400.8" stroke="#000" stroke-width="1.26" opacity="0.35" fill="none"/>
</g>
<path d="M400,664.6 H509" fill="none" stroke="#030303" stroke-width="5.4" stroke-linecap="butt" stroke-linejoin="round"/>
<path d="M509,672.5 H474.6 A11,11 0 0 0 463.6,683.5 V768" fill="none" stroke="#030303" stroke-width="5.4" stroke-linecap="butt" stroke-linejoin="round"/>
<path d="M582,665.6 H668.1 A11,11 0 0 1 679.1,676.6 V715" fill="none" stroke="#030303" stroke-width="5.4" stroke-linecap="butt" stroke-linejoin="round"/>
<path d="M679,832 V912" fill="none" stroke="#030303" stroke-width="5.4" stroke-linecap="butt" stroke-linejoin="round"/>
<path d="M459.7,889 V922.4 A11,11 0 0 1 448.7,933.4 H412" fill="none" stroke="#030303" stroke-width="5.4" stroke-linecap="butt" stroke-linejoin="round"/>
<path d="M702.8,914 V904.4 A9.5,9.5 0 0 1 712.3,894.9 H822.1 A9.5,9.5 0 0 1 831.6,904.4 V1029.4 A9.5,9.5 0 0 0 841.1,1038.9 H919.4 A9.5,9.5 0 0 0 928.9,1029.4 V995" fill="none" stroke="#030303" stroke-width="5.4" stroke-linecap="butt" stroke-linejoin="round"/>
<path d="M923.3,839 L923.4,877" stroke="#262626" stroke-width="4.8" fill="none"/>
<path d="M924.1999999999999,839 L924.3,877" stroke="#6a6a6a" stroke-width="1.1" fill="none" opacity="0.7"/>
<g transform="translate(699.8,976.4) rotate(180)">
<ellipse cx="0.8" cy="0.8" rx="68.19999999999999" ry="65.8" fill="#d4d4d4" filter="url(#blur08)"/>
<g clip-path="url(#kClipB)">
<ellipse cx="0" cy="0" rx="67.6" ry="65.2" fill="url(#kBaseB)"/>
<g filter="url(#blur15)"><path d="M36.6,-50.5 A63.9,61.6 0 0 1 31.9,53.4" stroke="#a4a4a4" stroke-width="7.0" opacity="1" fill="none" stroke-linecap="butt"/><path d="M-39.3,-48.6 A63.9,61.6 0 0 1 33.9,-52.3" stroke="#707070" stroke-width="7.0" opacity="0.9" fill="none" stroke-linecap="butt"/><path d="M-52.7,29.3 A60.8,58.7 0 0 1 -37.5,-46.2" stroke="#4a4a4a" stroke-width="10" opacity="0.7" fill="none" stroke-linecap="butt"/><path d="M-5.4,59.8 A62.2,60.0 0 0 1 -53.9,30.0" stroke="#3c3c3c" stroke-width="9" opacity="0.8" fill="none" stroke-linecap="butt"/><path d="M45.4,30.7 A55.4,53.5 0 0 1 -35.6,41.0" stroke="#6b5f5a" stroke-width="10" opacity="0.95" fill="none" stroke-linecap="butt"/><path d="M30.6,55.6 A65.2,62.9 0 0 1 -24.4,58.3" stroke="#a8a8a8" stroke-width="3.4" opacity="0.9" fill="none" stroke-linecap="butt"/><path d="M-33.0,38.0 A51.4,49.6 0 1 1 39.4,31.9" stroke="#141414" stroke-width="3.0" opacity="0.7" fill="none" stroke-linecap="butt"/></g>
<g filter="url(#blur05)"><path d="M57.7,-32.1 A66.6,64.2 0 0 1 17.2,62.0" stroke="#dcdcdc" stroke-width="1.8" opacity="0.8" fill="none" stroke-linecap="butt"/><path d="M45.6,-44.0 A64.6,62.3 0 0 1 45.6,44.0" stroke="#7e7e7e" stroke-width="1.0" opacity="0.8" fill="none" stroke-linecap="butt"/><path d="M39.3,-45.2 A61.2,59.0 0 0 1 39.3,45.2" stroke="#e0e0e0" stroke-width="1.2" opacity="0.6" fill="none" stroke-linecap="butt"/><path d="M29.4,-49.1 A58.8,56.7 0 0 1 33.7,46.5" stroke="#707070" stroke-width="1.4" opacity="0.9" fill="none" stroke-linecap="butt"/><path d="M26.5,-48.1 A56.4,54.4 0 0 1 34.8,42.9" stroke="#141414" stroke-width="1.8" opacity="0.9" fill="none" stroke-linecap="butt"/><path d="M-62.9,-22.1 A66.9,64.5 0 0 1 38.4,-52.9" stroke="#202020" stroke-width="1.6" opacity="0.9" fill="none" stroke-linecap="butt"/><path d="M-37.5,-46.2 A60.8,58.7 0 0 1 24.7,-53.6" stroke="#a0a0a0" stroke-width="1.0" opacity="0.6" fill="none" stroke-linecap="butt"/><path d="M-38.7,-41.4 A57.8,55.7 0 0 1 30.6,-47.3" stroke="#1a1a1a" stroke-width="1.8" opacity="0.85" fill="none" stroke-linecap="butt"/><path d="M-33.3,-41.1 A54.1,52.2 0 0 1 25.4,-46.1" stroke="#3c3c3c" stroke-width="1.6" opacity="0.7" fill="none" stroke-linecap="butt"/><path d="M-51.0,41.3 A66.6,64.2 0 0 1 -54.5,-36.8" stroke="#808080" stroke-width="1.2" opacity="0.7" fill="none" stroke-linecap="butt"/><path d="M-55.0,30.6 A63.5,61.3 0 0 1 -42.5,-45.5" stroke="#161616" stroke-width="1.4" opacity="0.8" fill="none" stroke-linecap="butt"/><path d="M-45.6,36.9 A59.5,57.4 0 0 1 -39.8,-42.6" stroke="#767676" stroke-width="1.4" opacity="0.7" fill="none" stroke-linecap="butt"/><path d="M-39.7,38.3 A56.1,54.1 0 0 1 -39.7,-38.3" stroke="#1a1a1a" stroke-width="1.8" opacity="0.85" fill="none" stroke-linecap="butt"/><path d="M-45.4,25.3 A52.4,50.5 0 0 1 -37.0,-35.7" stroke="#808080" stroke-width="1.4" opacity="0.7" fill="none" stroke-linecap="butt"/><path d="M-5.7,62.4 A64.9,62.6 0 0 1 -56.2,31.3" stroke="#767676" stroke-width="1.6" opacity="0.7" fill="none" stroke-linecap="butt"/><path d="M-10.6,58.1 A61.2,59.0 0 0 1 -53.0,29.5" stroke="#9a9a9a" stroke-width="1.0" opacity="0.5" fill="none" stroke-linecap="butt"/><path d="M-10.2,55.5 A58.5,56.4 0 0 1 -47.9,32.3" stroke="#141414" stroke-width="1.8" opacity="0.8" fill="none" stroke-linecap="butt"/><path d="M-13.8,49.8 A53.4,51.5 0 0 1 -46.2,25.8" stroke="#808080" stroke-width="1.4" opacity="0.6" fill="none" stroke-linecap="butt"/><path d="M39.1,31.6 A51.0,49.2 0 0 1 -29.3,40.3" stroke="#93847e" stroke-width="1.8" opacity="0.7" fill="none" stroke-linecap="butt"/><path d="M46.9,37.9 A61.2,59.0 0 0 1 -30.6,51.1" stroke="#171514" stroke-width="2.4" opacity="0.9" fill="none" stroke-linecap="butt"/><path d="M33.6,-56.2 A67.3,64.9 0 0 1 -11.7,63.9" stroke="#8e8e8e" stroke-width="0.9" opacity="0.8" fill="none" stroke-linecap="butt"/><path d="M-57,10 L-47,-17 L-41,-15 L-51,12 Z" fill="#f4f4f4" opacity="0.75"/><path d="M-62,-4 L-53,-28 L-49,-27 L-58,-2 Z" fill="#d8d8d8" opacity="0.55"/><path d="M-50,-32 L-40,-46 L-37,-44 L-47,-30 Z" fill="#c8c8c8" opacity="0.5"/><path d="M-56.2,10.4l2.8,-3.6" stroke="#e8e4e2" stroke-width="1.0" opacity="0.68"/><path d="M-60.2,6.0l2.9,-4.4" stroke="#e8e4e2" stroke-width="0.7" opacity="0.52"/><path d="M-56.9,-0.4l4.0,-6.7" stroke="#e8e4e2" stroke-width="0.7" opacity="0.76"/><path d="M-54.3,-3.9l4.6,-7.7" stroke="#e8e4e2" stroke-width="1.2" opacity="0.62"/><path d="M-53.0,-10.4l2.6,-3.8" stroke="#e8e4e2" stroke-width="1.1" opacity="0.70"/><path d="M-51.9,-15.4l2.5,-4.4" stroke="#e8e4e2" stroke-width="1.2" opacity="0.56"/><path d="M-54.2,-19.7l3.4,-4.4" stroke="#e8e4e2" stroke-width="1.2" opacity="0.61"/><path d="M-51.4,-23.7l4.8,-6.4" stroke="#e8e4e2" stroke-width="0.9" opacity="0.53"/><path d="M-47.1,-26.8l3.2,-4.3" stroke="#e8e4e2" stroke-width="1.3" opacity="0.70"/><path d="M-48.9,-31.1l2.4,-3.8" stroke="#e8e4e2" stroke-width="0.7" opacity="0.77"/><path d="M-43.0,-35.9l5.2,-7.1" stroke="#e8e4e2" stroke-width="1.3" opacity="0.75"/><path d="M-42.0,-41.8l2.0,-4.8" stroke="#e8e4e2" stroke-width="1.0" opacity="0.56"/><path d="M-34.7,54.0l2.4,-3.3" stroke="#e8e4e2" stroke-width="0.8" opacity="0.58"/><path d="M-31.8,54.8l4.1,-6.2" stroke="#e8e4e2" stroke-width="0.9" opacity="0.69"/><path d="M-20.2,56.0l3.5,-4.0" stroke="#e8e4e2" stroke-width="1.2" opacity="0.61"/><path d="M-19.6,54.1l4.1,-5.5" stroke="#e8e4e2" stroke-width="1.0" opacity="0.67"/><path d="M-10.6,53.3l4.2,-4.2" stroke="#e8e4e2" stroke-width="0.8" opacity="0.71"/><path d="M-3.4,54.2l2.7,-3.7" stroke="#e8e4e2" stroke-width="1.0" opacity="0.55"/><path d="M5.1,52.6l2.8,-6.3" stroke="#e8e4e2" stroke-width="1.2" opacity="0.48"/><path d="M13.7,52.6l2.1,-5.0" stroke="#e8e4e2" stroke-width="1.1" opacity="0.56"/><path d="M23.7,52.9l2.8,-5.1" stroke="#e8e4e2" stroke-width="1.2" opacity="0.45"/><path d="M34.6,52.1l4.4,-5.2" stroke="#e8e4e2" stroke-width="1.1" opacity="0.51"/><path d="M-27.3,-57.3l3.2,-5.5" stroke="#e8e4e2" stroke-width="0.9" opacity="0.36"/><path d="M-12.6,-56.4l1.8,-3.4" stroke="#e8e4e2" stroke-width="0.8" opacity="0.32"/><path d="M-4.8,-56.9l1.9,-2.8" stroke="#e8e4e2" stroke-width="0.8" opacity="0.39"/><path d="M6.7,-58.8l2.8,-5.3" stroke="#e8e4e2" stroke-width="1.3" opacity="0.41"/><path d="M13.2,-59.0l1.8,-3.9" stroke="#e8e4e2" stroke-width="1.2" opacity="0.30"/><path d="M42.1,35.9l1.5,-3.7" stroke="#e8e4e2" stroke-width="1.2" opacity="0.41"/><path d="M47.8,33.2l1.3,-3.4" stroke="#e8e4e2" stroke-width="1.1" opacity="0.31"/><path d="M50.6,21.1l3.4,-3.6" stroke="#e8e4e2" stroke-width="1.2" opacity="0.40"/><path d="M53.3,11.0l2.4,-2.3" stroke="#e8e4e2" stroke-width="0.8" opacity="0.37"/></g>
<path d="M-33.4,55.9 A66.9,64.5 0 0 1 33.5,-55.9" stroke="#111" stroke-width="1.6" fill="none" opacity="0.9"/>
</g>
<g filter="url(#blur05)"><ellipse cx="2.8" cy="-4.1" rx="49.6" ry="43.2" fill="#101010"/><ellipse cx="2.8" cy="-4" rx="48.2" ry="41.8" fill="url(#kWallB)"/><ellipse cx="2.8" cy="-4" rx="48.2" ry="41.8" fill="url(#kWallDB)"/></g>
<ellipse cx="1" cy="0.9" rx="38.4" ry="37.2" fill="#fff" filter="url(#blur05)"/>
</g>
<g transform="translate(0,605)">
<path d="M238,291.6 L232.5,291.6 Q223.5,294.6 218.5,304.5 L218.3,351.5 Q223,359.4 234,363.4 L238,364 Z" fill="url(#cFlB)"/>
<path d="M394,291.6 L399.4,291.6 Q408.6,294.6 413.4,304.8 L413.4,351.2 Q408.8,360.4 400.8,365 L394,365 Z" fill="url(#cFrB)"/>
<path d="M232.5,291.9 Q223.5,294.9 218.8,304.5 L218.6,351.5 Q223,359.2 234,363.1" fill="none" stroke="#5e5e5e" stroke-width="0.9" opacity="0.8"/>
<path d="M399.4,291.9 Q408.6,294.9 413.1,304.8 L413.1,351.2 Q408.8,360.2 400.8,364.7" fill="none" stroke="#666" stroke-width="0.9" opacity="0.7"/>
<ellipse cx="228" cy="305.8" rx="4.1" ry="3.9" fill="#fff" stroke="#6a6a6a" stroke-width="0.7"/>
<ellipse cx="228" cy="349.4" rx="4.1" ry="3.9" fill="#fff" stroke="#6a6a6a" stroke-width="0.7"/>
<ellipse cx="403.4" cy="305.8" rx="4.1" ry="3.9" fill="#fff" stroke="#6a6a6a" stroke-width="0.7"/>
<ellipse cx="403.8" cy="349.2" rx="4.1" ry="3.9" fill="#fff" stroke="#6a6a6a" stroke-width="0.7"/>
<rect x="238.4" y="291.6" width="156" height="73.4" fill="url(#cSideB)"/>
<path d="M238.4,292 H259.5 V317 Q249,321.5 238.4,317 Z" fill="#6a6a6a" opacity="0.95"/>
<path d="M378.5,292 H394.4 V317 Q386,321 378.5,317.5 Z" fill="#646464" opacity="0.95"/>
<rect x="239.6" y="294" width="5.4" height="52" fill="url(#cSpecB)" opacity="0.8"/>
<rect x="383.6" y="318" width="6.4" height="27" fill="url(#cSpecB)"/>
<rect x="236.2" y="291.6" width="2.4" height="72.4" fill="#c4c4c4"/>
<rect x="391.6" y="291.6" width="3.6" height="73.4" fill="#c0c0c0"/>
<rect x="394.4" y="291.6" width="1.2" height="73.4" fill="#6a6a6a" opacity="0.8"/>
<rect x="259" y="294" width="120" height="73.4" rx="6.5" fill="#2a2a2a"/>
<rect x="259.6" y="294.4" width="118.8" height="72.4" rx="6.2" fill="url(#cBezB)"/>
<rect x="259.6" y="294.4" width="118.8" height="72.4" rx="6.2" fill="url(#cBezVB)"/>
<rect x="268.6" y="305.4" width="102.4" height="53.4" rx="4.2" fill="#1a1a1a"/>
<rect x="271.4" y="307.2" width="98" height="50.2" rx="3" fill="url(#cFaceB)"/>
<path d="M366.4,307.4 H369.6 V320 L366.4,318 Z" fill="#1e1e1e"/>
<path d="M271.4,319 V310 Q271.4,307.2 274,307.2 L273.2,319 Z" fill="#2a2a2a" opacity="0.75"/>
<ellipse cx="319.59999999999997" cy="331.5" rx="20.5" ry="20" fill="#161616"/>
<circle cx="319.8" cy="331.4" r="15.8" fill="none" stroke="#909090" stroke-width="2.2"/>
<circle cx="319.8" cy="331.4" r="14.3" fill="#181818"/>
<circle cx="319.8" cy="331.4" r="11.4" fill="url(#cLensB)"/>
<circle cx="319.8" cy="331.4" r="8.6" fill="none" stroke="#5a5e68" stroke-width="0.8" opacity="0.6"/>
<circle cx="320.0" cy="332.0" r="6.2" fill="#b8b6be" opacity="0.8"/>
<circle cx="320.0" cy="332.0" r="3.6" fill="#2a2030"/>
<circle cx="320.0" cy="332.0" r="1.3" fill="#e8e0f0"/>
<circle cx="283" cy="314.9" r="5.3" fill="url(#cLedB)"/>
<circle cx="278.9" cy="332.1" r="5.3" fill="url(#cLedB)"/>
<circle cx="283.5" cy="348.9" r="5.3" fill="url(#cLedB)"/>
<circle cx="356.1" cy="314.6" r="5.3" fill="url(#cLedB)"/>
<circle cx="360.2" cy="331.4" r="5.3" fill="url(#cLedB)"/>
<circle cx="356.6" cy="348.7" r="5.3" fill="url(#cLedB)"/>
<circle cx="319.2" cy="357.5" r="4" fill="url(#cLedB)"/>
<circle cx="336.6" cy="308.8" r="1.3" fill="#141414"/>
</g>
<g transform="translate(26,563)">
<path d="M890.4,5.4 Q890.4,2.4 893.2,2.4 Q896,2.4 896,5.4 L897.6,40 L900,70 L900.8,110 L900.8,160 L890.6,160 L889.8,110 L889.4,70 L890.2,40 Z" fill="url(#gAnt)"/>
<rect x="890.6" y="159.4" width="9.4" height="9" fill="url(#gBrass)"/>
<path d="M890.6,162H900 M890.6,164.6H900 M890.6,167H900" stroke="#5a4a20" stroke-width="0.7" opacity="0.6"/>
<path d="M891.4,168.4 L899.4,168.4 L898.6,176 L892.4,176 Z" fill="#b09a68"/>
<rect x="856.2" y="204.2" width="11.4" height="40" rx="2.4" fill="#181818"/>
<rect x="924.5" y="204.2" width="11.4" height="40" rx="2.4" fill="#181818"/>
<rect x="859.0999999999999" y="208" width="5.4" height="9.8" rx="2.7" fill="#fff"/>
<circle cx="861.8" cy="224.4" r="2.9" fill="#fff"/>
<rect x="859.0999999999999" y="230" width="5.4" height="9.8" rx="2.7" fill="#fff"/>
<rect x="927.5" y="208" width="5.4" height="9.8" rx="2.7" fill="#fff"/>
<circle cx="930.2" cy="224.4" r="2.9" fill="#fff"/>
<rect x="927.5" y="230" width="5.4" height="9.8" rx="2.7" fill="#fff"/>
<rect x="867" y="175.2" width="58" height="97.6" rx="3.2" fill="url(#tBodyB)"/>
<rect x="867" y="175.2" width="58" height="4.6" rx="2.4" fill="#2a2a2a" opacity="0.8"/>
<rect x="867.4" y="269.6" width="57.2" height="3.2" rx="1.6" fill="#1c1c1c" opacity="0.7"/>
<path d="M880,180.2l2.6,-4M883.4,180.2l2.6,-4M886.8,180.2l2.6,-4M902,180.2l2.6,-4M905.4,180.2l2.6,-4M908.8,180.2l2.6,-4M912.2,180.2l2.6,-4M915.6,180.2l2.6,-4" stroke="#c8c8c8" stroke-width="0.9" opacity="0.75" fill="none"/>
<path d="M902,272.6l2.4,-3.6M905,272.6l2.4,-3.6M908,272.6l2.4,-3.6M911,272.6l2.4,-3.6M914,272.6l2.4,-3.6" stroke="#0a0a0a" stroke-width="1.2" opacity="0.85" fill="none"/>
<path d="M880,272.2l2.2,-3.2M883,272.2l2.2,-3.2M886,272.2l2.2,-3.2M889,272.2l2.2,-3.2" stroke="#8a8a8a" stroke-width="0.8" opacity="0.5" fill="none"/>
<rect x="885.4" y="190.8" width="22.8" height="18" rx="1" fill="#262626"/>
<circle cx="890.7" cy="196.6" r="0.9" fill="#8a8a8a"/><circle cx="890.6" cy="203.5" r="0.9" fill="#8a8a8a"/>
<path d="M898.2,194.7 A2.3,2.3 0 1 0 901,194.7 M899.6,193.6 V196.2" fill="none" stroke="#e6e6e6" stroke-width="0.9" stroke-linecap="round"/>
<path d="M896.2,202.4 Q899.6,199.4 903,202.4 M897.5,203.9 Q899.6,202.2 901.7,203.9" fill="none" stroke="#e4e4e4" stroke-width="1" stroke-linecap="round"/><circle cx="899.6" cy="205.6" r="0.9" fill="#e4e4e4"/>
<rect x="878.7" y="234.6" width="36.4" height="24.6" fill="#f2f2f2" stroke="#9a9a9a" stroke-width="0.5"/>
<g transform="translate(878.7,234.6) scale(0.1)">
<text x="82" y="55" font-family='"Liberation Sans", Arial, Helvetica, sans-serif' font-size="48" font-weight="bold" font-style="italic" fill="#5a5a5a" textLength="200" lengthAdjust="spacingAndGlyphs">Haloview</text>
<text x="32" y="100" font-family='"Liberation Sans", Arial, Helvetica, sans-serif' font-size="33" fill="#808080" textLength="297" lengthAdjust="spacingAndGlyphs">HD720P 2.4G Digital</text>
<text x="32" y="137" font-family='"Liberation Sans", Arial, Helvetica, sans-serif' font-size="33" fill="#808080" textLength="302" lengthAdjust="spacingAndGlyphs">Wireless Transmitter</text>
<text x="32" y="179" font-family='"Liberation Sans", Arial, Helvetica, sans-serif' font-size="33" fill="#808080" textLength="208" lengthAdjust="spacingAndGlyphs">Model No.: TX</text>
<text x="32" y="216" font-family='"Liberation Sans", Arial, Helvetica, sans-serif' font-size="33" fill="#808080" textLength="140" lengthAdjust="spacingAndGlyphs">DC10-32V</text>
</g>
<path d="M908.6,251.2h2.6v2h-2.6z M908.4,255.4h3 M909.2,256.4h1.6" stroke="#777" stroke-width="0.5" fill="none"/>
<path d="M892.4,273 L901.6,273 L900.6,279 Q897,281.4 893.4,279 Z" fill="#141414"/>
<circle cx="898.6" cy="275.4" r="1.5" fill="#d0d0d0"/>
</g>
<g transform="translate(0,1330.4) scale(1,-1)">
<path d="M356.5,658.0 L379,658.0 Q382,658.2 385,660.4000000000001 L402,661.0 L402,670.4000000000001 L385,670.8000000000001 Q382,672.4000000000001 379,672.5 L356.5,672.5 Q355,672.5 355,671.0 L355,659.4000000000001 Q355,658.0 356.5,658.0 Z" fill="url(#gJackB)"/>
<path d="M389,661.0V669.8000000000001M392,661.0V669.8000000000001M395,661.0V669.8000000000001M398,661.0V669.8000000000001" stroke="#777" stroke-width="1" opacity="0.45" fill="none"/>
<ellipse cx="357" cy="665.2" rx="1.5" ry="5.4" fill="#050505" opacity="0.8"/>
<path d="M360,663.0H377" stroke="#7a7a7a" stroke-width="1.4" opacity="0.3" stroke-linecap="round"/>
<circle cx="382.4" cy="663.6" r="1.1" fill="#d0d0d0" opacity="0.7"/>
</g>
<g transform="translate(0,1333.4) scale(1,-1)">
<rect x="507.8" y="654.7" width="12" height="24" rx="2.5" fill="#141414"/>
<rect x="515.8" y="653.1" width="56" height="27.2" rx="6" fill="#171717"/>
<rect x="517.8" y="654.1" width="52" height="8" rx="4" fill="#343434" opacity="0.45"/>
<ellipse cx="543.8" cy="667.2" rx="11" ry="5.6" fill="#0e0e0e" opacity="0.8"/>
<ellipse cx="543.8" cy="667.9000000000001" rx="9" ry="4" fill="#202020" opacity="0.8"/>
<path d="M570.8,659.7 L583.8,661.7 L583.8,671.7 L570.8,673.7 Z" fill="#121212"/>
<path d="M573.8,661.1V672.3000000000001M576.5999999999999,661.1V672.3000000000001M579.4,661.1V672.3000000000001M582.1999999999999,661.1V672.3000000000001" stroke="#666" stroke-width="1" opacity="0.5" fill="none"/>
</g>
<g clip-path="url(#bc15)">
<path d="M467.98,787.26 L466.49,787.15 L466.67,766.24 L467.69,766.31 Z" fill="#0c0c0c" stroke="#0c0c0c" stroke-width="0.5"/>
<path d="M466.49,787.15 L464.99,787.03 L465.64,766.16 L466.67,766.24 Z" fill="#131313" stroke="#131313" stroke-width="0.5"/>
<path d="M464.99,787.03 L463.50,786.92 L464.62,766.08 L465.64,766.16 Z" fill="#1b1b1b" stroke="#1b1b1b" stroke-width="0.5"/>
<path d="M463.50,786.92 L462.00,786.80 L463.60,766.00 L464.62,766.08 Z" fill="#2a2a2a" stroke="#2a2a2a" stroke-width="0.5"/>
<path d="M462.00,786.80 L460.50,786.68 L462.58,765.92 L463.60,766.00 Z" fill="#383838" stroke="#383838" stroke-width="0.5"/>
<path d="M460.50,786.68 L459.01,786.57 L461.56,765.84 L462.58,765.92 Z" fill="#303030" stroke="#303030" stroke-width="0.5"/>
<path d="M459.01,786.57 L457.51,786.45 L460.53,765.76 L461.56,765.84 Z" fill="#202020" stroke="#202020" stroke-width="0.5"/>
<path d="M457.51,786.45 L456.02,786.34 L459.51,765.69 L460.53,765.76 Z" fill="#0e0e0e" stroke="#0e0e0e" stroke-width="0.5"/>
<path d="M467.9,782.0L456.9,781.2M467.8,776.8L457.8,776.0M467.8,771.6L458.6,770.8" stroke="#000" stroke-width="1.76" opacity="0.75" fill="none"/>
</g>
<g clip-path="url(#bc16)">
<path d="M470.35,810.90 L468.96,810.90 L468.96,786.80 L470.35,786.80 Z" fill="#141414" stroke="#141414" stroke-width="0.5"/>
<path d="M468.96,810.90 L467.57,810.90 L467.57,786.80 L468.96,786.80 Z" fill="#202020" stroke="#202020" stroke-width="0.5"/>
<path d="M467.57,810.90 L466.18,810.90 L466.18,786.80 L467.57,786.80 Z" fill="#282828" stroke="#282828" stroke-width="0.5"/>
<path d="M466.18,810.90 L464.78,810.90 L464.78,786.80 L466.18,786.80 Z" fill="#2e2e2e" stroke="#2e2e2e" stroke-width="0.5"/>
<path d="M464.78,810.90 L463.39,810.90 L463.39,786.80 L464.78,786.80 Z" fill="#343434" stroke="#343434" stroke-width="0.5"/>
<path d="M463.39,810.90 L462.00,810.90 L462.00,786.80 L463.39,786.80 Z" fill="#3b3b3b" stroke="#3b3b3b" stroke-width="0.5"/>
<path d="M462.00,810.90 L460.61,810.90 L460.61,786.80 L462.00,786.80 Z" fill="#4a4a4a" stroke="#4a4a4a" stroke-width="0.5"/>
<path d="M460.61,810.90 L459.22,810.90 L459.22,786.80 L460.61,786.80 Z" fill="#575757" stroke="#575757" stroke-width="0.5"/>
<path d="M459.22,810.90 L457.82,810.90 L457.82,786.80 L459.22,786.80 Z" fill="#424242" stroke="#424242" stroke-width="0.5"/>
<path d="M457.82,810.90 L456.43,810.90 L456.43,786.80 L457.82,786.80 Z" fill="#313131" stroke="#313131" stroke-width="0.5"/>
<path d="M456.43,810.90 L455.04,810.90 L455.04,786.80 L456.43,786.80 Z" fill="#222222" stroke="#222222" stroke-width="0.5"/>
<path d="M455.04,810.90 L453.65,810.90 L453.65,786.80 L455.04,786.80 Z" fill="#131313" stroke="#131313" stroke-width="0.5"/>
<path d="M470.4,807.9L453.6,807.9M470.4,804.9L453.6,804.9M470.4,801.9L453.6,801.9M470.4,798.8L453.6,798.8M470.4,795.8L453.6,795.8M470.4,792.8L453.6,792.8M470.4,789.8L453.6,789.8" stroke="#000" stroke-width="1.26" opacity="0.35" fill="none"/>
</g>
<g clip-path="url(#bc17)">
<path d="M452.65,810.59 L454.42,810.61 L454.30,820.15 L452.53,820.13 Z" fill="#535353" stroke="#535353" stroke-width="0.5"/>
<path d="M454.42,810.61 L456.19,810.63 L456.07,820.17 L454.30,820.15 Z" fill="#797979" stroke="#797979" stroke-width="0.5"/>
<path d="M456.19,810.63 L457.96,810.66 L457.84,820.20 L456.07,820.17 Z" fill="#9d9d9d" stroke="#9d9d9d" stroke-width="0.5"/>
<path d="M457.96,810.66 L459.73,810.68 L459.61,820.22 L457.84,820.20 Z" fill="#c0c0c0" stroke="#c0c0c0" stroke-width="0.5"/>
<path d="M459.73,810.68 L461.50,810.70 L461.38,820.24 L459.61,820.22 Z" fill="#e2e2e2" stroke="#e2e2e2" stroke-width="0.5"/>
<path d="M461.50,810.70 L463.27,810.72 L463.15,820.26 L461.38,820.24 Z" fill="#d5d5d5" stroke="#d5d5d5" stroke-width="0.5"/>
<path d="M463.27,810.72 L465.04,810.74 L464.92,820.28 L463.15,820.26 Z" fill="#bbbbbb" stroke="#bbbbbb" stroke-width="0.5"/>
<path d="M465.04,810.74 L466.81,810.77 L466.69,820.31 L464.92,820.28 Z" fill="#949494" stroke="#949494" stroke-width="0.5"/>
<path d="M466.81,810.77 L468.58,810.79 L468.46,820.33 L466.69,820.31 Z" fill="#6e6e6e" stroke="#6e6e6e" stroke-width="0.5"/>
<path d="M468.58,810.79 L470.35,810.81 L470.23,820.35 L468.46,820.33 Z" fill="#4c4c4c" stroke="#4c4c4c" stroke-width="0.5"/>
<path d="M452.6,813.8L470.3,814.0M452.6,816.9L470.3,817.2" stroke="#000" stroke-width="1.09" opacity="0.28" fill="none"/>
</g>
<g clip-path="url(#bc18)">
<path d="M456.38,820.18 L457.38,820.19 L457.30,826.55 L456.30,826.54 Z" fill="#535353" stroke="#535353" stroke-width="0.5"/>
<path d="M457.38,820.19 L458.38,820.20 L458.30,826.56 L457.30,826.55 Z" fill="#797979" stroke="#797979" stroke-width="0.5"/>
<path d="M458.38,820.20 L459.38,820.21 L459.30,826.57 L458.30,826.56 Z" fill="#9d9d9d" stroke="#9d9d9d" stroke-width="0.5"/>
<path d="M459.38,820.21 L460.38,820.23 L460.30,826.59 L459.30,826.57 Z" fill="#c0c0c0" stroke="#c0c0c0" stroke-width="0.5"/>
<path d="M460.38,820.23 L461.38,820.24 L461.30,826.60 L460.30,826.59 Z" fill="#e2e2e2" stroke="#e2e2e2" stroke-width="0.5"/>
<path d="M461.38,820.24 L462.38,820.25 L462.30,826.61 L461.30,826.60 Z" fill="#d5d5d5" stroke="#d5d5d5" stroke-width="0.5"/>
<path d="M462.38,820.25 L463.38,820.27 L463.30,826.63 L462.30,826.61 Z" fill="#bbbbbb" stroke="#bbbbbb" stroke-width="0.5"/>
<path d="M463.38,820.27 L464.38,820.28 L464.30,826.64 L463.30,826.63 Z" fill="#949494" stroke="#949494" stroke-width="0.5"/>
<path d="M464.38,820.28 L465.38,820.29 L465.30,826.65 L464.30,826.64 Z" fill="#6e6e6e" stroke="#6e6e6e" stroke-width="0.5"/>
<path d="M465.38,820.29 L466.38,820.30 L466.30,826.66 L465.30,826.65 Z" fill="#4c4c4c" stroke="#4c4c4c" stroke-width="0.5"/>
</g>
<g clip-path="url(#bc19)">
<path d="M451.00,826.19 L452.67,826.22 L451.77,891.83 L450.20,891.80 Z" fill="#0f0f0f" stroke="#0f0f0f" stroke-width="0.5"/>
<path d="M452.67,826.22 L454.33,826.26 L453.33,891.87 L451.77,891.83 Z" fill="#181818" stroke="#181818" stroke-width="0.5"/>
<path d="M454.33,826.26 L456.00,826.29 L454.90,891.90 L453.33,891.87 Z" fill="#1c1c1c" stroke="#1c1c1c" stroke-width="0.5"/>
<path d="M456.00,826.29 L457.67,826.33 L456.47,891.93 L454.90,891.90 Z" fill="#212121" stroke="#212121" stroke-width="0.5"/>
<path d="M457.67,826.33 L459.33,826.36 L458.03,891.97 L456.47,891.93 Z" fill="#252525" stroke="#252525" stroke-width="0.5"/>
<path d="M459.33,826.36 L461.00,826.40 L459.60,892.00 L458.03,891.97 Z" fill="#2e2e2e" stroke="#2e2e2e" stroke-width="0.5"/>
<path d="M461.00,826.40 L462.67,826.44 L461.17,892.03 L459.60,892.00 Z" fill="#393939" stroke="#393939" stroke-width="0.5"/>
<path d="M462.67,826.44 L464.33,826.47 L462.73,892.07 L461.17,892.03 Z" fill="#4a4a4a" stroke="#4a4a4a" stroke-width="0.5"/>
<path d="M464.33,826.47 L466.00,826.51 L464.30,892.10 L462.73,892.07 Z" fill="#4e4e4e" stroke="#4e4e4e" stroke-width="0.5"/>
<path d="M466.00,826.51 L467.67,826.54 L465.87,892.13 L464.30,892.10 Z" fill="#333333" stroke="#333333" stroke-width="0.5"/>
<path d="M467.67,826.54 L469.33,826.58 L467.43,892.17 L465.87,892.13 Z" fill="#202020" stroke="#202020" stroke-width="0.5"/>
<path d="M469.33,826.58 L471.00,826.61 L469.00,892.20 L467.43,892.17 Z" fill="#101010" stroke="#101010" stroke-width="0.5"/>
<path d="M451.0,828.6L470.9,829.0M450.9,831.0L470.8,831.5M450.9,833.5L470.8,833.9M450.9,835.9L470.7,836.3M450.9,838.3L470.6,838.8M450.8,840.8L470.6,841.2M450.8,843.2L470.5,843.6M450.8,845.6L470.4,846.0M450.7,848.1L470.3,848.5M450.7,850.5L470.3,850.9M450.7,852.9L470.2,853.3M450.6,855.3L470.1,855.8M450.6,857.8L470.0,858.2M450.6,860.2L470.0,860.6M450.6,862.6L469.9,863.1M450.5,865.1L469.8,865.5M450.5,867.5L469.7,867.9M450.5,869.9L469.7,870.3M450.4,872.4L469.6,872.8M450.4,874.8L469.5,875.2M450.4,877.2L469.4,877.6M450.4,879.6L469.4,880.1M450.3,882.1L469.3,882.5M450.3,884.5L469.2,884.9M450.3,886.9L469.1,887.3M450.2,889.4L469.1,889.8" stroke="#000" stroke-width="1.01" opacity="0.45" fill="none"/>
</g>
<g clip-path="url(#bc20)">
<path d="M685.80,735.75 L684.30,735.76 L682.67,712.57 L683.70,712.56 Z" fill="#0c0c0c" stroke="#0c0c0c" stroke-width="0.5"/>
<path d="M684.30,735.76 L682.80,735.77 L681.65,712.58 L682.67,712.57 Z" fill="#131313" stroke="#131313" stroke-width="0.5"/>
<path d="M682.80,735.77 L681.30,735.79 L680.62,712.59 L681.65,712.58 Z" fill="#1b1b1b" stroke="#1b1b1b" stroke-width="0.5"/>
<path d="M681.30,735.79 L679.80,735.80 L679.60,712.60 L680.62,712.59 Z" fill="#2a2a2a" stroke="#2a2a2a" stroke-width="0.5"/>
<path d="M679.80,735.80 L678.30,735.81 L678.58,712.61 L679.60,712.60 Z" fill="#383838" stroke="#383838" stroke-width="0.5"/>
<path d="M678.30,735.81 L676.80,735.83 L677.55,712.62 L678.58,712.61 Z" fill="#303030" stroke="#303030" stroke-width="0.5"/>
<path d="M676.80,735.83 L675.30,735.84 L676.53,712.63 L677.55,712.62 Z" fill="#202020" stroke="#202020" stroke-width="0.5"/>
<path d="M675.30,735.84 L673.80,735.85 L675.50,712.64 L676.53,712.63 Z" fill="#0e0e0e" stroke="#0e0e0e" stroke-width="0.5"/>
<path d="M685.4,731.1L674.1,731.2M685.0,726.5L674.5,726.6M684.5,721.8L674.8,721.9M684.1,717.2L675.2,717.3" stroke="#000" stroke-width="1.76" opacity="0.75" fill="none"/>
</g>
<g clip-path="url(#bc21)">
<path d="M688.45,758.00 L687.01,758.00 L687.01,735.80 L688.45,735.80 Z" fill="#141414" stroke="#141414" stroke-width="0.5"/>
<path d="M687.01,758.00 L685.57,758.00 L685.57,735.80 L687.01,735.80 Z" fill="#202020" stroke="#202020" stroke-width="0.5"/>
<path d="M685.57,758.00 L684.12,758.00 L684.12,735.80 L685.57,735.80 Z" fill="#282828" stroke="#282828" stroke-width="0.5"/>
<path d="M684.12,758.00 L682.68,758.00 L682.68,735.80 L684.12,735.80 Z" fill="#2e2e2e" stroke="#2e2e2e" stroke-width="0.5"/>
<path d="M682.68,758.00 L681.24,758.00 L681.24,735.80 L682.68,735.80 Z" fill="#343434" stroke="#343434" stroke-width="0.5"/>
<path d="M681.24,758.00 L679.80,758.00 L679.80,735.80 L681.24,735.80 Z" fill="#3b3b3b" stroke="#3b3b3b" stroke-width="0.5"/>
<path d="M679.80,758.00 L678.36,758.00 L678.36,735.80 L679.80,735.80 Z" fill="#4a4a4a" stroke="#4a4a4a" stroke-width="0.5"/>
<path d="M678.36,758.00 L676.92,758.00 L676.92,735.80 L678.36,735.80 Z" fill="#575757" stroke="#575757" stroke-width="0.5"/>
<path d="M676.92,758.00 L675.47,758.00 L675.47,735.80 L676.92,735.80 Z" fill="#424242" stroke="#424242" stroke-width="0.5"/>
<path d="M675.47,758.00 L674.03,758.00 L674.03,735.80 L675.47,735.80 Z" fill="#313131" stroke="#313131" stroke-width="0.5"/>
<path d="M674.03,758.00 L672.59,758.00 L672.59,735.80 L674.03,735.80 Z" fill="#222222" stroke="#222222" stroke-width="0.5"/>
<path d="M672.59,758.00 L671.15,758.00 L671.15,735.80 L672.59,735.80 Z" fill="#131313" stroke="#131313" stroke-width="0.5"/>
<path d="M688.4,754.8L671.1,754.8M688.4,751.7L671.1,751.7M688.4,748.5L671.1,748.5M688.4,745.3L671.1,745.3M688.4,742.1L671.1,742.1M688.4,739.0L671.1,739.0" stroke="#000" stroke-width="1.26" opacity="0.35" fill="none"/>
</g>
<g clip-path="url(#bc22)">
<path d="M674.00,757.72 L675.16,757.73 L675.08,763.37 L673.92,763.36 Z" fill="#535353" stroke="#535353" stroke-width="0.5"/>
<path d="M675.16,757.73 L676.32,757.75 L676.24,763.39 L675.08,763.37 Z" fill="#797979" stroke="#797979" stroke-width="0.5"/>
<path d="M676.32,757.75 L677.48,757.77 L677.40,763.41 L676.24,763.39 Z" fill="#9d9d9d" stroke="#9d9d9d" stroke-width="0.5"/>
<path d="M677.48,757.77 L678.64,757.78 L678.56,763.42 L677.40,763.41 Z" fill="#c0c0c0" stroke="#c0c0c0" stroke-width="0.5"/>
<path d="M678.64,757.78 L679.80,757.80 L679.72,763.44 L678.56,763.42 Z" fill="#e2e2e2" stroke="#e2e2e2" stroke-width="0.5"/>
<path d="M679.80,757.80 L680.96,757.82 L680.88,763.46 L679.72,763.44 Z" fill="#d5d5d5" stroke="#d5d5d5" stroke-width="0.5"/>
<path d="M680.96,757.82 L682.12,757.83 L682.04,763.47 L680.88,763.46 Z" fill="#bbbbbb" stroke="#bbbbbb" stroke-width="0.5"/>
<path d="M682.12,757.83 L683.28,757.85 L683.20,763.49 L682.04,763.47 Z" fill="#949494" stroke="#949494" stroke-width="0.5"/>
<path d="M683.28,757.85 L684.44,757.87 L684.36,763.51 L683.20,763.49 Z" fill="#6e6e6e" stroke="#6e6e6e" stroke-width="0.5"/>
<path d="M684.44,757.87 L685.60,757.88 L685.52,763.52 L684.36,763.51 Z" fill="#4c4c4c" stroke="#4c4c4c" stroke-width="0.5"/>
</g>
<g clip-path="url(#bc23)">
<path d="M671.07,763.32 L672.80,763.34 L672.68,771.80 L670.95,771.78 Z" fill="#535353" stroke="#535353" stroke-width="0.5"/>
<path d="M672.80,763.34 L674.53,763.37 L674.41,771.83 L672.68,771.80 Z" fill="#797979" stroke="#797979" stroke-width="0.5"/>
<path d="M674.53,763.37 L676.26,763.39 L676.14,771.85 L674.41,771.83 Z" fill="#9d9d9d" stroke="#9d9d9d" stroke-width="0.5"/>
<path d="M676.26,763.39 L677.99,763.42 L677.87,771.88 L676.14,771.85 Z" fill="#c0c0c0" stroke="#c0c0c0" stroke-width="0.5"/>
<path d="M677.99,763.42 L679.72,763.44 L679.60,771.90 L677.87,771.88 Z" fill="#e2e2e2" stroke="#e2e2e2" stroke-width="0.5"/>
<path d="M679.72,763.44 L681.45,763.46 L681.33,771.92 L679.60,771.90 Z" fill="#d5d5d5" stroke="#d5d5d5" stroke-width="0.5"/>
<path d="M681.45,763.46 L683.18,763.49 L683.06,771.95 L681.33,771.92 Z" fill="#bbbbbb" stroke="#bbbbbb" stroke-width="0.5"/>
<path d="M683.18,763.49 L684.91,763.51 L684.79,771.97 L683.06,771.95 Z" fill="#949494" stroke="#949494" stroke-width="0.5"/>
<path d="M684.91,763.51 L686.64,763.54 L686.52,772.00 L684.79,771.97 Z" fill="#6e6e6e" stroke="#6e6e6e" stroke-width="0.5"/>
<path d="M686.64,763.54 L688.37,763.56 L688.25,772.02 L686.52,772.00 Z" fill="#4c4c4c" stroke="#4c4c4c" stroke-width="0.5"/>
<path d="M671.0,766.1L688.3,766.4M671.0,769.0L688.3,769.2" stroke="#000" stroke-width="1.09" opacity="0.28" fill="none"/>
</g>
<g clip-path="url(#bc24)">
<path d="M670.10,771.61 L671.68,771.62 L672.42,833.84 L671.10,833.82 Z" fill="#0f0f0f" stroke="#0f0f0f" stroke-width="0.5"/>
<path d="M671.68,771.62 L673.27,771.64 L673.73,833.85 L672.42,833.84 Z" fill="#181818" stroke="#181818" stroke-width="0.5"/>
<path d="M673.27,771.64 L674.85,771.65 L675.05,833.86 L673.73,833.85 Z" fill="#1c1c1c" stroke="#1c1c1c" stroke-width="0.5"/>
<path d="M674.85,771.65 L676.43,771.67 L676.37,833.87 L675.05,833.86 Z" fill="#212121" stroke="#212121" stroke-width="0.5"/>
<path d="M676.43,771.67 L678.02,771.68 L677.68,833.89 L676.37,833.87 Z" fill="#252525" stroke="#252525" stroke-width="0.5"/>
<path d="M678.02,771.68 L679.60,771.70 L679.00,833.90 L677.68,833.89 Z" fill="#2e2e2e" stroke="#2e2e2e" stroke-width="0.5"/>
<path d="M679.60,771.70 L681.18,771.72 L680.32,833.91 L679.00,833.90 Z" fill="#393939" stroke="#393939" stroke-width="0.5"/>
<path d="M681.18,771.72 L682.77,771.73 L681.63,833.93 L680.32,833.91 Z" fill="#4a4a4a" stroke="#4a4a4a" stroke-width="0.5"/>
<path d="M682.77,771.73 L684.35,771.75 L682.95,833.94 L681.63,833.93 Z" fill="#4e4e4e" stroke="#4e4e4e" stroke-width="0.5"/>
<path d="M684.35,771.75 L685.93,771.76 L684.27,833.95 L682.95,833.94 Z" fill="#333333" stroke="#333333" stroke-width="0.5"/>
<path d="M685.93,771.76 L687.52,771.78 L685.58,833.96 L684.27,833.95 Z" fill="#202020" stroke="#202020" stroke-width="0.5"/>
<path d="M687.52,771.78 L689.10,771.79 L686.90,833.98 L685.58,833.96 Z" fill="#101010" stroke="#101010" stroke-width="0.5"/>
<path d="M670.1,774.1L689.0,774.3M670.2,776.6L688.9,776.8M670.2,779.1L688.8,779.3M670.3,781.6L688.7,781.7M670.3,784.1L688.7,784.2M670.3,786.5L688.6,786.7M670.4,789.0L688.5,789.2M670.4,791.5L688.4,791.7M670.5,794.0L688.3,794.2M670.5,796.5L688.2,796.7M670.5,799.0L688.1,799.2M670.6,801.5L688.0,801.6M670.6,804.0L688.0,804.1M670.7,806.4L687.9,806.6M670.7,808.9L687.8,809.1M670.7,811.4L687.7,811.6M670.8,813.9L687.6,814.1M670.8,816.4L687.5,816.6M670.9,818.9L687.4,819.1M670.9,821.4L687.3,821.5M670.9,823.9L687.3,824.0M671.0,826.4L687.2,826.5M671.0,828.8L687.1,829.0M671.1,831.3L687.0,831.5" stroke="#000" stroke-width="1.01" opacity="0.45" fill="none"/>
</g>
<g clip-path="url(#bc25)">
<path d="M915.71,875.40 L916.96,875.33 L918.98,933.69 L917.51,933.77 Z" fill="#0f0f0f" stroke="#0f0f0f" stroke-width="0.5"/>
<path d="M916.96,875.33 L918.21,875.27 L920.44,933.61 L918.98,933.69 Z" fill="#181818" stroke="#181818" stroke-width="0.5"/>
<path d="M918.21,875.27 L919.46,875.20 L921.91,933.53 L920.44,933.61 Z" fill="#1c1c1c" stroke="#1c1c1c" stroke-width="0.5"/>
<path d="M919.46,875.20 L920.70,875.13 L923.37,933.46 L921.91,933.53 Z" fill="#212121" stroke="#212121" stroke-width="0.5"/>
<path d="M920.70,875.13 L921.95,875.07 L924.84,933.38 L923.37,933.46 Z" fill="#252525" stroke="#252525" stroke-width="0.5"/>
<path d="M921.95,875.07 L923.20,875.00 L926.30,933.30 L924.84,933.38 Z" fill="#2e2e2e" stroke="#2e2e2e" stroke-width="0.5"/>
<path d="M923.20,875.00 L924.45,874.93 L927.76,933.22 L926.30,933.30 Z" fill="#393939" stroke="#393939" stroke-width="0.5"/>
<path d="M924.45,874.93 L925.70,874.87 L929.23,933.14 L927.76,933.22 Z" fill="#4a4a4a" stroke="#4a4a4a" stroke-width="0.5"/>
<path d="M925.70,874.87 L926.94,874.80 L930.69,933.07 L929.23,933.14 Z" fill="#4e4e4e" stroke="#4e4e4e" stroke-width="0.5"/>
<path d="M926.94,874.80 L928.19,874.73 L932.16,932.99 L930.69,933.07 Z" fill="#333333" stroke="#333333" stroke-width="0.5"/>
<path d="M928.19,874.73 L929.44,874.67 L933.62,932.91 L932.16,932.99 Z" fill="#202020" stroke="#202020" stroke-width="0.5"/>
<path d="M929.44,874.67 L930.69,874.60 L935.09,932.83 L933.62,932.91 Z" fill="#101010" stroke="#101010" stroke-width="0.5"/>
<path d="M915.8,877.8L930.9,877.0M915.9,880.3L931.1,879.5M915.9,882.7L931.2,881.9M916.0,885.1L931.4,884.3M916.1,887.6L931.6,886.7M916.2,890.0L931.8,889.2M916.2,892.4L932.0,891.6M916.3,894.9L932.2,894.0M916.4,897.3L932.3,896.4M916.5,899.7L932.5,898.9M916.5,902.2L932.7,901.3M916.6,904.6L932.9,903.7M916.7,907.0L933.1,906.1M916.8,909.4L933.3,908.6M916.8,911.9L933.4,911.0M916.9,914.3L933.6,913.4M917.0,916.7L933.8,915.8M917.1,919.2L934.0,918.3M917.1,921.6L934.2,920.7M917.2,924.0L934.4,923.1M917.3,926.5L934.5,925.6M917.4,928.9L934.7,928.0M917.4,931.3L934.9,930.4" stroke="#000" stroke-width="1.01" opacity="0.45" fill="none"/>
</g>
<g clip-path="url(#bc26)">
<path d="M920.10,933.10 L921.34,933.10 L921.34,938.75 L920.10,938.75 Z" fill="#4a4a4a" stroke="#4a4a4a" stroke-width="0.5"/>
<path d="M921.34,933.10 L922.58,933.10 L922.58,938.75 L921.34,938.75 Z" fill="#686868" stroke="#686868" stroke-width="0.5"/>
<path d="M922.58,933.10 L923.82,933.10 L923.82,938.75 L922.58,938.75 Z" fill="#858585" stroke="#858585" stroke-width="0.5"/>
<path d="M923.82,933.10 L925.06,933.10 L925.06,938.75 L923.82,938.75 Z" fill="#a0a0a0" stroke="#a0a0a0" stroke-width="0.5"/>
<path d="M925.06,933.10 L926.30,933.10 L926.30,938.75 L925.06,938.75 Z" fill="#bababa" stroke="#bababa" stroke-width="0.5"/>
<path d="M926.30,933.10 L927.54,933.10 L927.54,938.75 L926.30,938.75 Z" fill="#afafaf" stroke="#afafaf" stroke-width="0.5"/>
<path d="M927.54,933.10 L928.78,933.10 L928.78,938.75 L927.54,938.75 Z" fill="#9c9c9c" stroke="#9c9c9c" stroke-width="0.5"/>
<path d="M928.78,933.10 L930.02,933.10 L930.02,938.75 L928.78,938.75 Z" fill="#7e7e7e" stroke="#7e7e7e" stroke-width="0.5"/>
<path d="M930.02,933.10 L931.26,933.10 L931.26,938.75 L930.02,938.75 Z" fill="#606060" stroke="#606060" stroke-width="0.5"/>
<path d="M931.26,933.10 L932.50,933.10 L932.50,938.75 L931.26,938.75 Z" fill="#424242" stroke="#424242" stroke-width="0.5"/>
<path d="M920.1,935.9L932.5,935.9" stroke="#000" stroke-width="1.09" opacity="0.28" fill="none"/>
</g>
<g clip-path="url(#bc27)">
<path d="M920.80,938.75 L921.90,938.75 L921.90,944.40 L920.80,944.40 Z" fill="#4a4a4a" stroke="#4a4a4a" stroke-width="0.5"/>
<path d="M921.90,938.75 L923.00,938.75 L923.00,944.40 L921.90,944.40 Z" fill="#686868" stroke="#686868" stroke-width="0.5"/>
<path d="M923.00,938.75 L924.10,938.75 L924.10,944.40 L923.00,944.40 Z" fill="#858585" stroke="#858585" stroke-width="0.5"/>
<path d="M924.10,938.75 L925.20,938.75 L925.20,944.40 L924.10,944.40 Z" fill="#a0a0a0" stroke="#a0a0a0" stroke-width="0.5"/>
<path d="M925.20,938.75 L926.30,938.75 L926.30,944.40 L925.20,944.40 Z" fill="#bababa" stroke="#bababa" stroke-width="0.5"/>
<path d="M926.30,938.75 L927.40,938.75 L927.40,944.40 L926.30,944.40 Z" fill="#afafaf" stroke="#afafaf" stroke-width="0.5"/>
<path d="M927.40,938.75 L928.50,938.75 L928.50,944.40 L927.40,944.40 Z" fill="#9c9c9c" stroke="#9c9c9c" stroke-width="0.5"/>
<path d="M928.50,938.75 L929.60,938.75 L929.60,944.40 L928.50,944.40 Z" fill="#7e7e7e" stroke="#7e7e7e" stroke-width="0.5"/>
<path d="M929.60,938.75 L930.70,938.75 L930.70,944.40 L929.60,944.40 Z" fill="#606060" stroke="#606060" stroke-width="0.5"/>
<path d="M930.70,938.75 L931.80,938.75 L931.80,944.40 L930.70,944.40 Z" fill="#424242" stroke="#424242" stroke-width="0.5"/>
</g>
<g clip-path="url(#bc28)">
<path d="M918.40,944.42 L919.72,944.39 L921.39,997.68 L920.10,997.72 Z" fill="#0f0f0f" stroke="#0f0f0f" stroke-width="0.5"/>
<path d="M919.72,944.39 L921.04,944.35 L922.67,997.64 L921.39,997.68 Z" fill="#181818" stroke="#181818" stroke-width="0.5"/>
<path d="M921.04,944.35 L922.35,944.31 L923.95,997.61 L922.67,997.64 Z" fill="#1c1c1c" stroke="#1c1c1c" stroke-width="0.5"/>
<path d="M922.35,944.31 L923.67,944.27 L925.23,997.57 L923.95,997.61 Z" fill="#212121" stroke="#212121" stroke-width="0.5"/>
<path d="M923.67,944.27 L924.98,944.24 L926.52,997.54 L925.23,997.57 Z" fill="#252525" stroke="#252525" stroke-width="0.5"/>
<path d="M924.98,944.24 L926.30,944.20 L927.80,997.50 L926.52,997.54 Z" fill="#2e2e2e" stroke="#2e2e2e" stroke-width="0.5"/>
<path d="M926.30,944.20 L927.62,944.16 L929.08,997.46 L927.80,997.50 Z" fill="#393939" stroke="#393939" stroke-width="0.5"/>
<path d="M927.62,944.16 L928.93,944.13 L930.37,997.43 L929.08,997.46 Z" fill="#4a4a4a" stroke="#4a4a4a" stroke-width="0.5"/>
<path d="M928.93,944.13 L930.25,944.09 L931.65,997.39 L930.37,997.43 Z" fill="#4e4e4e" stroke="#4e4e4e" stroke-width="0.5"/>
<path d="M930.25,944.09 L931.56,944.05 L932.93,997.36 L931.65,997.39 Z" fill="#333333" stroke="#333333" stroke-width="0.5"/>
<path d="M931.56,944.05 L932.88,944.01 L934.21,997.32 L932.93,997.36 Z" fill="#202020" stroke="#202020" stroke-width="0.5"/>
<path d="M932.88,944.01 L934.20,943.98 L935.50,997.28 L934.21,997.32 Z" fill="#101010" stroke="#101010" stroke-width="0.5"/>
<path d="M918.5,946.8L934.3,946.4M918.6,949.3L934.3,948.8M918.6,951.7L934.4,951.2M918.7,954.1L934.4,953.7M918.8,956.5L934.5,956.1M918.9,959.0L934.6,958.5M918.9,961.4L934.6,960.9M919.0,963.8L934.7,963.4M919.1,966.2L934.7,965.8M919.2,968.6L934.8,968.2M919.3,971.1L934.8,970.6M919.3,973.5L934.9,973.1M919.4,975.9L935.0,975.5M919.5,978.3L935.0,977.9M919.6,980.8L935.1,980.3M919.6,983.2L935.1,982.7M919.7,985.6L935.2,985.2M919.8,988.0L935.3,987.6M919.9,990.4L935.3,990.0M919.9,992.9L935.4,992.4M920.0,995.3L935.4,994.9" stroke="#000" stroke-width="1.01" opacity="0.45" fill="none"/>
</g>
</svg>
</body>
</html>
